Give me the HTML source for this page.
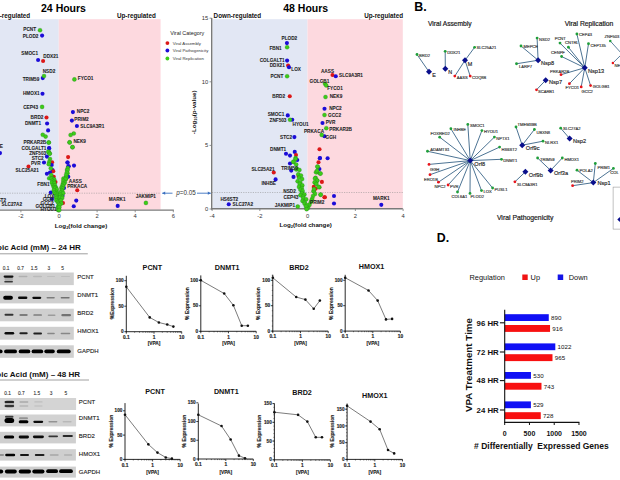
<!DOCTYPE html>
<html><head><meta charset="utf-8"><style>
html,body{margin:0;padding:0;background:#fff;width:620px;height:480px;overflow:hidden}
svg{display:block;font-family:"Liberation Sans",sans-serif}
</style></head><body>
<svg width="620" height="480" viewBox="0 0 620 480" font-family="Liberation Sans, sans-serif"><rect x="0.00" y="19.20" width="58.75" height="190.40" fill="#e2e7f4" />
<rect x="58.75" y="19.20" width="101.85" height="190.40" fill="#fdd9df" />
<line x1="0.00" y1="193.20" x2="160.60" y2="193.20" stroke="#888" stroke-width="0.5" stroke-dasharray="1.2,1.2"/>
<line x1="0.00" y1="210.10" x2="173.80" y2="210.10" stroke="#7a7a7a" stroke-width="1.4" />
<line x1="20.90" y1="210.10" x2="20.90" y2="212.30" stroke="#7a7a7a" stroke-width="0.8" />
<text x="20.90" y="218.28" font-size="5.8" font-weight="normal" text-anchor="middle" fill="#333" >-2</text>
<line x1="59.00" y1="210.10" x2="59.00" y2="212.30" stroke="#7a7a7a" stroke-width="0.8" />
<text x="59.00" y="218.28" font-size="5.8" font-weight="normal" text-anchor="middle" fill="#333" >0</text>
<line x1="97.10" y1="210.10" x2="97.10" y2="212.30" stroke="#7a7a7a" stroke-width="0.8" />
<text x="97.10" y="218.28" font-size="5.8" font-weight="normal" text-anchor="middle" fill="#333" >2</text>
<line x1="135.20" y1="210.10" x2="135.20" y2="212.30" stroke="#7a7a7a" stroke-width="0.8" />
<text x="135.20" y="218.28" font-size="5.8" font-weight="normal" text-anchor="middle" fill="#333" >4</text>
<line x1="173.30" y1="210.10" x2="173.30" y2="212.30" stroke="#7a7a7a" stroke-width="0.8" />
<text x="173.30" y="218.28" font-size="5.8" font-weight="normal" text-anchor="middle" fill="#333" >6</text>
<text x="30.20" y="17.60" font-size="6.3" font-weight="bold" text-anchor="end" fill="#111" >Down-regulated</text>
<text x="155.80" y="18.30" font-size="6.3" font-weight="bold" text-anchor="end" fill="#111" >Up-regulated</text>
<text x="63.50" y="11.50" font-size="10.5" font-weight="bold" text-anchor="middle" fill="#000" >24 Hours</text>
<text x="81" y="227.9" font-size="6.2" font-weight="bold" text-anchor="middle" fill="#111">Log<tspan font-size="4" dy="1.2">2</tspan><tspan dy="-1.2">(fold change)</tspan></text>
<line x1="172.50" y1="193.20" x2="162.20" y2="193.20" stroke="#3a6fc0" stroke-width="0.9" />
<path d="M162.20,193.20 L165.20,191.60 L165.20,194.80 Z" fill="#3a6fc0"/>
<text x="176.3" y="195.4" font-size="6.3" fill="#333"><tspan font-style="italic">p</tspan>=0.05</text>
<line x1="197.00" y1="193.20" x2="210.80" y2="193.20" stroke="#3a6fc0" stroke-width="0.9" />
<path d="M210.80,193.20 L207.80,191.60 L207.80,194.80 Z" fill="#3a6fc0"/>
<text x="187.20" y="35.30" font-size="5.4" font-weight="normal" text-anchor="middle" fill="#222" >Viral Category</text>
<circle cx="167.40" cy="43.10" r="1.9" fill="#dc1818" />
<text x="172.80" y="44.64" font-size="4.3" font-weight="normal" text-anchor="start" fill="#333" >Viral Assembly</text>
<circle cx="167.40" cy="50.50" r="1.9" fill="#1c0cd8" />
<text x="172.80" y="52.04" font-size="4.3" font-weight="normal" text-anchor="start" fill="#333" >Viral Pathogenicity</text>
<circle cx="167.40" cy="58.50" r="1.9" fill="#3ccd18" />
<text x="172.80" y="60.04" font-size="4.3" font-weight="normal" text-anchor="start" fill="#333" >Viral Replication</text>
<circle cx="42.10" cy="35.60" r="2.05" fill="#1c0cd8" />
<circle cx="38.10" cy="60.00" r="2.05" fill="#1c0cd8" />
<circle cx="43.10" cy="61.00" r="2.05" fill="#dc1818" />
<circle cx="42.75" cy="78.10" r="2.05" fill="#1c0cd8" />
<circle cx="42.50" cy="93.75" r="2.05" fill="#1c0cd8" />
<circle cx="46.50" cy="117.50" r="2.05" fill="#dc1818" />
<circle cx="47.10" cy="123.50" r="2.05" fill="#1c0cd8" />
<circle cx="48.10" cy="130.40" r="2.05" fill="#1c0cd8" />
<circle cx="49.10" cy="148.10" r="2.05" fill="#1c0cd8" />
<circle cx="46.90" cy="156.60" r="2.05" fill="#1c0cd8" />
<circle cx="44.00" cy="162.50" r="2.05" fill="#1c0cd8" />
<circle cx="28.50" cy="166.50" r="2.05" fill="#dc1818" />
<circle cx="46.90" cy="173.75" r="2.05" fill="#1c0cd8" />
<circle cx="0.00" cy="153.10" r="2.05" fill="#1c0cd8" />
<circle cx="72.90" cy="112.10" r="2.05" fill="#1c0cd8" />
<circle cx="71.90" cy="120.60" r="2.05" fill="#1c0cd8" />
<circle cx="76.90" cy="126.00" r="2.05" fill="#1c0cd8" />
<circle cx="68.10" cy="157.10" r="2.05" fill="#dc1818" />
<circle cx="67.50" cy="162.50" r="2.05" fill="#1c0cd8" />
<circle cx="68.75" cy="166.25" r="2.05" fill="#1c0cd8" />
<circle cx="74.00" cy="165.60" r="2.05" fill="#1c0cd8" />
<circle cx="77.25" cy="190.25" r="2.05" fill="#dc1818" />
<circle cx="76.25" cy="200.60" r="2.05" fill="#1c0cd8" />
<circle cx="73.75" cy="206.25" r="2.05" fill="#1c0cd8" />
<circle cx="117.70" cy="205.90" r="2.05" fill="#1c0cd8" />
<circle cx="50.80" cy="192.50" r="2.05" fill="#1c0cd8" />
<circle cx="52.00" cy="199.00" r="2.05" fill="#1c0cd8" />
<circle cx="54.50" cy="186.00" r="2.05" fill="#1c0cd8" />
<circle cx="62.50" cy="195.80" r="2.05" fill="#1c0cd8" />
<circle cx="64.00" cy="188.00" r="2.05" fill="#1c0cd8" />
<circle cx="55.50" cy="182.00" r="2.05" fill="#dc1818" />
<circle cx="63.00" cy="203.00" r="2.05" fill="#dc1818" />
<circle cx="49.20" cy="148.30" r="2.05" fill="#1c0cd8" />
<circle cx="52.10" cy="162.30" r="2.05" fill="#dc1818" />
<circle cx="51.70" cy="165.00" r="2.05" fill="#1c0cd8" />
<circle cx="52.50" cy="170.00" r="2.05" fill="#1c0cd8" />
<circle cx="53.30" cy="171.25" r="2.05" fill="#dc1818" />
<circle cx="50.00" cy="172.50" r="2.05" fill="#1c0cd8" />
<circle cx="53.75" cy="176.70" r="2.05" fill="#dc1818" />
<circle cx="67.50" cy="162.50" r="2.05" fill="#1c0cd8" />
<circle cx="68.30" cy="166.25" r="2.05" fill="#1c0cd8" />
<circle cx="68.30" cy="176.70" r="2.05" fill="#1c0cd8" />
<circle cx="40.00" cy="30.25" r="2.05" fill="#3ccd18" stroke="#226622" stroke-width="0.25"/>
<circle cx="44.00" cy="76.00" r="2.05" fill="#3ccd18" stroke="#226622" stroke-width="0.25"/>
<circle cx="42.10" cy="106.90" r="2.05" fill="#3ccd18" stroke="#226622" stroke-width="0.25"/>
<circle cx="42.75" cy="134.75" r="2.05" fill="#3ccd18" stroke="#226622" stroke-width="0.25"/>
<circle cx="45.60" cy="136.60" r="2.05" fill="#3ccd18" stroke="#226622" stroke-width="0.25"/>
<circle cx="48.75" cy="142.50" r="2.05" fill="#3ccd18" stroke="#226622" stroke-width="0.25"/>
<circle cx="48.75" cy="151.90" r="2.05" fill="#3ccd18" stroke="#226622" stroke-width="0.25"/>
<circle cx="49.75" cy="153.50" r="2.05" fill="#3ccd18" stroke="#226622" stroke-width="0.25"/>
<circle cx="74.40" cy="79.40" r="2.05" fill="#3ccd18" stroke="#226622" stroke-width="0.25"/>
<circle cx="73.75" cy="133.50" r="2.05" fill="#3ccd18" stroke="#226622" stroke-width="0.25"/>
<circle cx="70.60" cy="135.00" r="2.05" fill="#3ccd18" stroke="#226622" stroke-width="0.25"/>
<circle cx="69.60" cy="142.25" r="2.05" fill="#3ccd18" stroke="#226622" stroke-width="0.25"/>
<circle cx="72.50" cy="147.25" r="2.05" fill="#3ccd18" stroke="#226622" stroke-width="0.25"/>
<circle cx="145.90" cy="202.90" r="2.05" fill="#3ccd18" stroke="#226622" stroke-width="0.25"/>
<circle cx="48.75" cy="142.50" r="2.05" fill="#3ccd18" stroke="#226622" stroke-width="0.25"/>
<circle cx="48.30" cy="151.70" r="2.05" fill="#3ccd18" stroke="#226622" stroke-width="0.25"/>
<circle cx="49.60" cy="153.75" r="2.05" fill="#3ccd18" stroke="#226622" stroke-width="0.25"/>
<circle cx="50.00" cy="159.00" r="2.05" fill="#3ccd18" stroke="#226622" stroke-width="0.25"/>
<circle cx="49.20" cy="162.00" r="2.05" fill="#3ccd18" stroke="#226622" stroke-width="0.25"/>
<circle cx="48.75" cy="164.20" r="2.05" fill="#3ccd18" stroke="#226622" stroke-width="0.25"/>
<circle cx="50.80" cy="168.30" r="2.05" fill="#3ccd18" stroke="#226622" stroke-width="0.25"/>
<circle cx="51.25" cy="175.00" r="2.05" fill="#3ccd18" stroke="#226622" stroke-width="0.25"/>
<circle cx="49.20" cy="178.30" r="2.05" fill="#3ccd18" stroke="#226622" stroke-width="0.25"/>
<circle cx="52.50" cy="178.30" r="2.05" fill="#3ccd18" stroke="#226622" stroke-width="0.25"/>
<circle cx="69.60" cy="142.50" r="2.05" fill="#3ccd18" stroke="#226622" stroke-width="0.25"/>
<circle cx="72.50" cy="147.10" r="2.05" fill="#3ccd18" stroke="#226622" stroke-width="0.25"/>
<circle cx="67.10" cy="170.00" r="2.05" fill="#3ccd18" stroke="#226622" stroke-width="0.25"/>
<circle cx="67.50" cy="173.30" r="2.05" fill="#3ccd18" stroke="#226622" stroke-width="0.25"/>
<circle cx="66.25" cy="176.70" r="2.05" fill="#3ccd18" stroke="#226622" stroke-width="0.25"/>
<circle cx="65.80" cy="179.20" r="2.05" fill="#3ccd18" stroke="#226622" stroke-width="0.25"/>
<circle cx="51.45" cy="178.58" r="2.05" fill="#3ccd18" stroke="#226622" stroke-width="0.25"/>
<circle cx="54.21" cy="179.49" r="2.05" fill="#3ccd18" stroke="#226622" stroke-width="0.25"/>
<circle cx="52.33" cy="180.78" r="2.05" fill="#3ccd18" stroke="#226622" stroke-width="0.25"/>
<circle cx="53.84" cy="181.95" r="2.05" fill="#3ccd18" stroke="#226622" stroke-width="0.25"/>
<circle cx="51.80" cy="182.80" r="2.05" fill="#3ccd18" stroke="#226622" stroke-width="0.25"/>
<circle cx="54.32" cy="183.38" r="2.05" fill="#3ccd18" stroke="#226622" stroke-width="0.25"/>
<circle cx="53.04" cy="185.20" r="2.05" fill="#3ccd18" stroke="#226622" stroke-width="0.25"/>
<circle cx="54.86" cy="185.48" r="2.05" fill="#3ccd18" stroke="#226622" stroke-width="0.25"/>
<circle cx="53.90" cy="187.29" r="2.05" fill="#3ccd18" stroke="#226622" stroke-width="0.25"/>
<circle cx="55.96" cy="187.63" r="2.05" fill="#3ccd18" stroke="#226622" stroke-width="0.25"/>
<circle cx="55.07" cy="188.14" r="2.05" fill="#3ccd18" stroke="#226622" stroke-width="0.25"/>
<circle cx="56.81" cy="189.44" r="2.05" fill="#3ccd18" stroke="#226622" stroke-width="0.25"/>
<circle cx="53.86" cy="190.17" r="2.05" fill="#3ccd18" stroke="#226622" stroke-width="0.25"/>
<circle cx="56.51" cy="192.00" r="2.05" fill="#3ccd18" stroke="#226622" stroke-width="0.25"/>
<circle cx="54.40" cy="192.66" r="2.05" fill="#3ccd18" stroke="#226622" stroke-width="0.25"/>
<circle cx="57.43" cy="193.41" r="2.05" fill="#3ccd18" stroke="#226622" stroke-width="0.25"/>
<circle cx="55.60" cy="193.98" r="2.05" fill="#3ccd18" stroke="#226622" stroke-width="0.25"/>
<circle cx="57.08" cy="195.15" r="2.05" fill="#3ccd18" stroke="#226622" stroke-width="0.25"/>
<circle cx="56.32" cy="196.35" r="2.05" fill="#3ccd18" stroke="#226622" stroke-width="0.25"/>
<circle cx="57.90" cy="197.54" r="2.05" fill="#3ccd18" stroke="#226622" stroke-width="0.25"/>
<circle cx="56.33" cy="198.13" r="2.05" fill="#3ccd18" stroke="#226622" stroke-width="0.25"/>
<circle cx="59.04" cy="199.61" r="2.05" fill="#3ccd18" stroke="#226622" stroke-width="0.25"/>
<circle cx="56.38" cy="200.40" r="2.05" fill="#3ccd18" stroke="#226622" stroke-width="0.25"/>
<circle cx="59.12" cy="201.76" r="2.05" fill="#3ccd18" stroke="#226622" stroke-width="0.25"/>
<circle cx="57.81" cy="202.00" r="2.05" fill="#3ccd18" stroke="#226622" stroke-width="0.25"/>
<circle cx="58.77" cy="203.73" r="2.05" fill="#3ccd18" stroke="#226622" stroke-width="0.25"/>
<circle cx="58.11" cy="206.43" r="2.05" fill="#3ccd18" stroke="#226622" stroke-width="0.25"/>
<circle cx="58.04" cy="208.05" r="2.05" fill="#3ccd18" stroke="#226622" stroke-width="0.25"/>
<circle cx="58.28" cy="210.20" r="2.05" fill="#3ccd18" stroke="#226622" stroke-width="0.25"/>
<circle cx="67.78" cy="168.09" r="2.05" fill="#3ccd18" stroke="#226622" stroke-width="0.25"/>
<circle cx="67.53" cy="170.11" r="2.05" fill="#3ccd18" stroke="#226622" stroke-width="0.25"/>
<circle cx="66.76" cy="172.78" r="2.05" fill="#3ccd18" stroke="#226622" stroke-width="0.25"/>
<circle cx="66.11" cy="174.95" r="2.05" fill="#3ccd18" stroke="#226622" stroke-width="0.25"/>
<circle cx="66.13" cy="177.87" r="2.05" fill="#3ccd18" stroke="#226622" stroke-width="0.25"/>
<circle cx="63.49" cy="178.53" r="2.05" fill="#3ccd18" stroke="#226622" stroke-width="0.25"/>
<circle cx="65.37" cy="179.14" r="2.05" fill="#3ccd18" stroke="#226622" stroke-width="0.25"/>
<circle cx="63.32" cy="180.87" r="2.05" fill="#3ccd18" stroke="#226622" stroke-width="0.25"/>
<circle cx="64.90" cy="182.59" r="2.05" fill="#3ccd18" stroke="#226622" stroke-width="0.25"/>
<circle cx="63.02" cy="183.20" r="2.05" fill="#3ccd18" stroke="#226622" stroke-width="0.25"/>
<circle cx="63.80" cy="184.20" r="2.05" fill="#3ccd18" stroke="#226622" stroke-width="0.25"/>
<circle cx="62.39" cy="185.53" r="2.05" fill="#3ccd18" stroke="#226622" stroke-width="0.25"/>
<circle cx="62.89" cy="186.62" r="2.05" fill="#3ccd18" stroke="#226622" stroke-width="0.25"/>
<circle cx="61.35" cy="187.87" r="2.05" fill="#3ccd18" stroke="#226622" stroke-width="0.25"/>
<circle cx="62.61" cy="188.47" r="2.05" fill="#3ccd18" stroke="#226622" stroke-width="0.25"/>
<circle cx="61.62" cy="190.20" r="2.05" fill="#3ccd18" stroke="#226622" stroke-width="0.25"/>
<circle cx="62.19" cy="191.03" r="2.05" fill="#3ccd18" stroke="#226622" stroke-width="0.25"/>
<circle cx="60.72" cy="192.53" r="2.05" fill="#3ccd18" stroke="#226622" stroke-width="0.25"/>
<circle cx="63.08" cy="193.16" r="2.05" fill="#3ccd18" stroke="#226622" stroke-width="0.25"/>
<circle cx="60.35" cy="194.87" r="2.05" fill="#3ccd18" stroke="#226622" stroke-width="0.25"/>
<circle cx="62.06" cy="196.46" r="2.05" fill="#3ccd18" stroke="#226622" stroke-width="0.25"/>
<circle cx="60.35" cy="197.20" r="2.05" fill="#3ccd18" stroke="#226622" stroke-width="0.25"/>
<circle cx="62.18" cy="198.07" r="2.05" fill="#3ccd18" stroke="#226622" stroke-width="0.25"/>
<circle cx="60.93" cy="200.50" r="2.05" fill="#3ccd18" stroke="#226622" stroke-width="0.25"/>
<circle cx="61.32" cy="203.55" r="2.05" fill="#3ccd18" stroke="#226622" stroke-width="0.25"/>
<circle cx="59.56" cy="204.94" r="2.05" fill="#3ccd18" stroke="#226622" stroke-width="0.25"/>
<circle cx="59.26" cy="207.35" r="2.05" fill="#3ccd18" stroke="#226622" stroke-width="0.25"/>
<circle cx="59.27" cy="210.11" r="2.05" fill="#3ccd18" stroke="#226622" stroke-width="0.25"/>
<text x="29.70" y="31.48" font-size="4.7" font-weight="bold" text-anchor="middle" fill="#222" stroke="#222" stroke-width="0.06">PCNT</text>
<text x="30.60" y="37.98" font-size="4.7" font-weight="bold" text-anchor="middle" fill="#222" stroke="#222" stroke-width="0.06">PLOD2</text>
<text x="29.70" y="55.18" font-size="4.7" font-weight="bold" text-anchor="middle" fill="#222" stroke="#222" stroke-width="0.06">SMOC1</text>
<text x="50.90" y="57.98" font-size="4.7" font-weight="bold" text-anchor="middle" fill="#222" stroke="#222" stroke-width="0.06">DDX21</text>
<text x="49.00" y="72.68" font-size="4.7" font-weight="bold" text-anchor="middle" fill="#222" stroke="#222" stroke-width="0.06">NSD2</text>
<text x="31.00" y="81.08" font-size="4.7" font-weight="bold" text-anchor="middle" fill="#222" stroke="#222" stroke-width="0.06">TRIM59</text>
<text x="31.30" y="95.43" font-size="4.7" font-weight="bold" text-anchor="middle" fill="#222" stroke="#222" stroke-width="0.06">HMOX1</text>
<text x="30.60" y="108.58" font-size="4.7" font-weight="bold" text-anchor="middle" fill="#222" stroke="#222" stroke-width="0.06">CEP43</text>
<text x="37.00" y="118.98" font-size="4.7" font-weight="bold" text-anchor="middle" fill="#222" stroke="#222" stroke-width="0.06">BRD2</text>
<text x="33.00" y="125.28" font-size="4.7" font-weight="bold" text-anchor="middle" fill="#222" stroke="#222" stroke-width="0.06">DNMT1</text>
<text x="34.90" y="144.18" font-size="4.7" font-weight="bold" text-anchor="middle" fill="#222" stroke="#222" stroke-width="0.06">PRKAR2B</text>
<text x="34.00" y="149.78" font-size="4.7" font-weight="bold" text-anchor="middle" fill="#222" stroke="#222" stroke-width="0.06">COLGALT1</text>
<text x="37.70" y="154.78" font-size="4.7" font-weight="bold" text-anchor="middle" fill="#222" stroke="#222" stroke-width="0.06">ZNF503</text>
<text x="37.70" y="159.78" font-size="4.7" font-weight="bold" text-anchor="middle" fill="#222" stroke="#222" stroke-width="0.06">STC2</text>
<text x="35.70" y="164.78" font-size="4.7" font-weight="bold" text-anchor="middle" fill="#222" stroke="#222" stroke-width="0.06">PVR</text>
<text x="27.20" y="172.28" font-size="4.7" font-weight="bold" text-anchor="middle" fill="#222" stroke="#222" stroke-width="0.06">SLC25A21</text>
<text x="43.40" y="186.08" font-size="4.7" font-weight="bold" text-anchor="middle" fill="#222" stroke="#222" stroke-width="0.06">FBN1</text>
<text x="3.00" y="147.68" font-size="4.7" font-weight="bold" text-anchor="end" fill="#222" stroke="#222" stroke-width="0.06">INHBE</text>
<text x="85.60" y="80.48" font-size="4.7" font-weight="bold" text-anchor="middle" fill="#222" stroke="#222" stroke-width="0.06">FYCO1</text>
<text x="83.10" y="113.18" font-size="4.7" font-weight="bold" text-anchor="middle" fill="#222" stroke="#222" stroke-width="0.06">NPC2</text>
<text x="81.50" y="121.08" font-size="4.7" font-weight="bold" text-anchor="middle" fill="#222" stroke="#222" stroke-width="0.06">PRIM2</text>
<text x="92.30" y="128.18" font-size="4.7" font-weight="bold" text-anchor="middle" fill="#222" stroke="#222" stroke-width="0.06">SLC9A3R1</text>
<text x="79.70" y="142.88" font-size="4.7" font-weight="bold" text-anchor="middle" fill="#222" stroke="#222" stroke-width="0.06">NEK9</text>
<text x="75.30" y="182.98" font-size="4.7" font-weight="bold" text-anchor="middle" fill="#222" stroke="#222" stroke-width="0.06">AASS</text>
<text x="77.20" y="188.18" font-size="4.7" font-weight="bold" text-anchor="middle" fill="#222" stroke="#222" stroke-width="0.06">PRKACA</text>
<text x="117.20" y="200.68" font-size="4.7" font-weight="bold" text-anchor="middle" fill="#222" stroke="#222" stroke-width="0.06">MARK1</text>
<text x="145.80" y="197.68" font-size="4.7" font-weight="bold" text-anchor="middle" fill="#222" stroke="#222" stroke-width="0.06">JAKMIP1</text>
<text x="6.00" y="201.68" font-size="4.7" font-weight="bold" text-anchor="end" fill="#222" stroke="#222" stroke-width="0.06">HS6ST2</text>
<text x="11.80" y="205.98" font-size="4.7" font-weight="bold" text-anchor="middle" fill="#222" stroke="#222" stroke-width="0.06">SLC27A2</text>
<text x="49.50" y="198.18" font-size="4.7" font-weight="bold" text-anchor="middle" fill="#222" stroke="#222" stroke-width="0.06">LOX</text>
<text x="48.00" y="201.48" font-size="4.7" font-weight="bold" text-anchor="middle" fill="#222" stroke="#222" stroke-width="0.06">GGH</text>
<text x="47.00" y="204.68" font-size="4.7" font-weight="bold" text-anchor="middle" fill="#222" stroke="#222" stroke-width="0.06">GCC2</text>
<text x="45.30" y="207.98" font-size="4.7" font-weight="bold" text-anchor="middle" fill="#222" stroke="#222" stroke-width="0.06">GOLGB1</text>
<text x="48.50" y="210.68" font-size="4.7" font-weight="bold" text-anchor="middle" fill="#222" stroke="#222" stroke-width="0.06">HYOU1</text>
<rect x="212.50" y="19.20" width="95.00" height="189.50" fill="#e2e7f4" />
<rect x="307.50" y="19.20" width="95.30" height="189.50" fill="#fdd9df" />
<line x1="212.00" y1="192.50" x2="402.80" y2="192.50" stroke="#888" stroke-width="0.5" stroke-dasharray="1.2,1.2"/>
<line x1="211.70" y1="18.10" x2="211.70" y2="209.50" stroke="#7a7a7a" stroke-width="1.4" />
<line x1="209.50" y1="209.00" x2="211.70" y2="209.00" stroke="#7a7a7a" stroke-width="0.8" />
<text x="208.30" y="211.08" font-size="5.8" font-weight="normal" text-anchor="end" fill="#333" >0</text>
<line x1="209.50" y1="145.40" x2="211.70" y2="145.40" stroke="#7a7a7a" stroke-width="0.8" />
<text x="208.30" y="147.48" font-size="5.8" font-weight="normal" text-anchor="end" fill="#333" >5</text>
<line x1="209.50" y1="81.80" x2="211.70" y2="81.80" stroke="#7a7a7a" stroke-width="0.8" />
<text x="208.30" y="83.88" font-size="5.8" font-weight="normal" text-anchor="end" fill="#333" >10</text>
<line x1="209.50" y1="18.20" x2="211.70" y2="18.20" stroke="#7a7a7a" stroke-width="0.8" />
<text x="208.30" y="20.28" font-size="5.8" font-weight="normal" text-anchor="end" fill="#333" >15</text>
<line x1="211.00" y1="208.80" x2="402.80" y2="208.80" stroke="#7a7a7a" stroke-width="1.4" />
<line x1="212.10" y1="208.80" x2="212.10" y2="211.00" stroke="#7a7a7a" stroke-width="0.8" />
<text x="212.10" y="217.68" font-size="5.8" font-weight="normal" text-anchor="middle" fill="#333" >-4</text>
<line x1="259.85" y1="208.80" x2="259.85" y2="211.00" stroke="#7a7a7a" stroke-width="0.8" />
<text x="259.85" y="217.68" font-size="5.8" font-weight="normal" text-anchor="middle" fill="#333" >-2</text>
<line x1="307.60" y1="208.80" x2="307.60" y2="211.00" stroke="#7a7a7a" stroke-width="0.8" />
<text x="307.60" y="217.68" font-size="5.8" font-weight="normal" text-anchor="middle" fill="#333" >0</text>
<line x1="355.35" y1="208.80" x2="355.35" y2="211.00" stroke="#7a7a7a" stroke-width="0.8" />
<text x="355.35" y="217.68" font-size="5.8" font-weight="normal" text-anchor="middle" fill="#333" >2</text>
<line x1="403.10" y1="208.80" x2="403.10" y2="211.00" stroke="#7a7a7a" stroke-width="0.8" />
<text x="403.10" y="217.68" font-size="5.8" font-weight="normal" text-anchor="middle" fill="#333" >4</text>
<text x="305.70" y="11.50" font-size="10.5" font-weight="bold" text-anchor="middle" fill="#000" >48 Hours</text>
<text x="213.60" y="18.30" font-size="6.3" font-weight="bold" text-anchor="start" fill="#111" >Down-regulated</text>
<text x="403.00" y="18.30" font-size="6.3" font-weight="bold" text-anchor="end" fill="#111" >Up-regulated</text>
<text x="305.7" y="227.1" font-size="6.2" font-weight="bold" text-anchor="middle" fill="#111">Log<tspan font-size="4" dy="1.2">2</tspan><tspan dy="-1.2">(fold change)</tspan></text>
<text transform="translate(196.2,112.3) rotate(-90)" font-size="6.2" font-weight="bold" text-anchor="middle" fill="#111">-Log<tspan font-size="4" dy="1.2">10</tspan><tspan dy="-1.2">(p-value)</tspan></text>
<circle cx="286.90" cy="43.10" r="2.05" fill="#1c0cd8" />
<circle cx="287.10" cy="60.60" r="2.05" fill="#1c0cd8" />
<circle cx="288.10" cy="65.60" r="2.05" fill="#dc1818" />
<circle cx="289.00" cy="67.25" r="2.05" fill="#1c0cd8" />
<circle cx="289.75" cy="96.25" r="2.05" fill="#dc1818" />
<circle cx="287.75" cy="115.40" r="2.05" fill="#1c0cd8" />
<circle cx="292.25" cy="119.75" r="2.05" fill="#1c0cd8" />
<circle cx="294.40" cy="137.10" r="2.05" fill="#1c0cd8" />
<circle cx="286.00" cy="153.75" r="2.05" fill="#1c0cd8" />
<circle cx="290.00" cy="155.60" r="2.05" fill="#1c0cd8" />
<circle cx="294.75" cy="151.90" r="2.05" fill="#1c0cd8" />
<circle cx="296.00" cy="155.00" r="2.05" fill="#dc1818" />
<circle cx="297.25" cy="160.00" r="2.05" fill="#1c0cd8" />
<circle cx="290.00" cy="163.50" r="2.05" fill="#1c0cd8" />
<circle cx="291.25" cy="170.60" r="2.05" fill="#1c0cd8" />
<circle cx="293.50" cy="176.90" r="2.05" fill="#1c0cd8" />
<circle cx="273.75" cy="172.50" r="2.05" fill="#dc1818" />
<circle cx="275.60" cy="179.40" r="2.05" fill="#1c0cd8" />
<circle cx="228.75" cy="204.30" r="2.05" fill="#1c0cd8" />
<circle cx="332.50" cy="75.00" r="2.05" fill="#dc1818" />
<circle cx="335.75" cy="76.25" r="2.05" fill="#1c0cd8" />
<circle cx="324.50" cy="108.75" r="2.05" fill="#1c0cd8" />
<circle cx="322.50" cy="123.00" r="2.05" fill="#1c0cd8" />
<circle cx="324.40" cy="136.30" r="2.05" fill="#1c0cd8" />
<circle cx="319.50" cy="149.30" r="2.05" fill="#dc1818" />
<circle cx="319.80" cy="158.20" r="2.05" fill="#1c0cd8" />
<circle cx="327.60" cy="158.20" r="2.05" fill="#1c0cd8" />
<circle cx="320.00" cy="158.10" r="2.05" fill="#1c0cd8" />
<circle cx="318.50" cy="162.25" r="2.05" fill="#dc1818" />
<circle cx="319.40" cy="169.00" r="2.05" fill="#1c0cd8" />
<circle cx="321.90" cy="181.90" r="2.05" fill="#dc1818" />
<circle cx="313.75" cy="186.90" r="2.05" fill="#dc1818" />
<circle cx="315.60" cy="188.75" r="2.05" fill="#dc1818" />
<circle cx="324.40" cy="197.25" r="2.05" fill="#dc1818" />
<circle cx="334.00" cy="196.00" r="2.05" fill="#1c0cd8" />
<circle cx="334.00" cy="203.50" r="2.05" fill="#1c0cd8" />
<circle cx="381.30" cy="204.85" r="2.05" fill="#1c0cd8" />
<circle cx="324.90" cy="197.30" r="2.05" fill="#dc1818" />
<circle cx="300.00" cy="185.00" r="2.05" fill="#1c0cd8" />
<circle cx="302.00" cy="192.00" r="2.05" fill="#1c0cd8" />
<circle cx="304.00" cy="200.00" r="2.05" fill="#1c0cd8" />
<circle cx="298.50" cy="176.00" r="2.05" fill="#dc1818" />
<circle cx="287.10" cy="47.25" r="2.05" fill="#3ccd18" stroke="#226622" stroke-width="0.25"/>
<circle cx="287.10" cy="76.25" r="2.05" fill="#3ccd18" stroke="#226622" stroke-width="0.25"/>
<circle cx="290.00" cy="119.75" r="2.05" fill="#3ccd18" stroke="#226622" stroke-width="0.25"/>
<circle cx="295.60" cy="158.10" r="2.05" fill="#3ccd18" stroke="#226622" stroke-width="0.25"/>
<circle cx="293.50" cy="161.90" r="2.05" fill="#3ccd18" stroke="#226622" stroke-width="0.25"/>
<circle cx="296.25" cy="169.40" r="2.05" fill="#3ccd18" stroke="#226622" stroke-width="0.25"/>
<circle cx="297.75" cy="206.50" r="2.05" fill="#3ccd18" stroke="#226622" stroke-width="0.25"/>
<circle cx="325.00" cy="83.75" r="2.05" fill="#3ccd18" stroke="#226622" stroke-width="0.25"/>
<circle cx="326.25" cy="85.50" r="2.05" fill="#3ccd18" stroke="#226622" stroke-width="0.25"/>
<circle cx="325.50" cy="97.00" r="2.05" fill="#3ccd18" stroke="#226622" stroke-width="0.25"/>
<circle cx="324.50" cy="115.00" r="2.05" fill="#3ccd18" stroke="#226622" stroke-width="0.25"/>
<circle cx="326.30" cy="128.20" r="2.05" fill="#3ccd18" stroke="#226622" stroke-width="0.25"/>
<circle cx="321.70" cy="134.90" r="2.05" fill="#3ccd18" stroke="#226622" stroke-width="0.25"/>
<circle cx="317.75" cy="166.90" r="2.05" fill="#3ccd18" stroke="#226622" stroke-width="0.25"/>
<circle cx="316.90" cy="172.25" r="2.05" fill="#3ccd18" stroke="#226622" stroke-width="0.25"/>
<circle cx="320.00" cy="173.50" r="2.05" fill="#3ccd18" stroke="#226622" stroke-width="0.25"/>
<circle cx="315.60" cy="177.75" r="2.05" fill="#3ccd18" stroke="#226622" stroke-width="0.25"/>
<circle cx="317.25" cy="180.60" r="2.05" fill="#3ccd18" stroke="#226622" stroke-width="0.25"/>
<circle cx="315.60" cy="183.10" r="2.05" fill="#3ccd18" stroke="#226622" stroke-width="0.25"/>
<circle cx="319.40" cy="187.25" r="2.05" fill="#3ccd18" stroke="#226622" stroke-width="0.25"/>
<circle cx="313.75" cy="191.25" r="2.05" fill="#3ccd18" stroke="#226622" stroke-width="0.25"/>
<circle cx="320.60" cy="194.75" r="2.05" fill="#3ccd18" stroke="#226622" stroke-width="0.25"/>
<circle cx="317.40" cy="166.60" r="2.05" fill="#3ccd18" stroke="#226622" stroke-width="0.25"/>
<circle cx="316.00" cy="172.20" r="2.05" fill="#3ccd18" stroke="#226622" stroke-width="0.25"/>
<circle cx="317.10" cy="170.80" r="2.05" fill="#3ccd18" stroke="#226622" stroke-width="0.25"/>
<circle cx="320.60" cy="173.60" r="2.05" fill="#3ccd18" stroke="#226622" stroke-width="0.25"/>
<circle cx="315.00" cy="178.50" r="2.05" fill="#3ccd18" stroke="#226622" stroke-width="0.25"/>
<circle cx="317.10" cy="180.60" r="2.05" fill="#3ccd18" stroke="#226622" stroke-width="0.25"/>
<circle cx="314.60" cy="182.40" r="2.05" fill="#3ccd18" stroke="#226622" stroke-width="0.25"/>
<circle cx="316.40" cy="184.10" r="2.05" fill="#3ccd18" stroke="#226622" stroke-width="0.25"/>
<circle cx="318.50" cy="186.90" r="2.05" fill="#3ccd18" stroke="#226622" stroke-width="0.25"/>
<circle cx="313.60" cy="191.10" r="2.05" fill="#3ccd18" stroke="#226622" stroke-width="0.25"/>
<circle cx="315.00" cy="193.90" r="2.05" fill="#3ccd18" stroke="#226622" stroke-width="0.25"/>
<circle cx="320.60" cy="194.60" r="2.05" fill="#3ccd18" stroke="#226622" stroke-width="0.25"/>
<circle cx="313.00" cy="196.00" r="2.05" fill="#3ccd18" stroke="#226622" stroke-width="0.25"/>
<circle cx="312.20" cy="198.80" r="2.05" fill="#3ccd18" stroke="#226622" stroke-width="0.25"/>
<circle cx="310.80" cy="202.30" r="2.05" fill="#3ccd18" stroke="#226622" stroke-width="0.25"/>
<circle cx="309.40" cy="205.00" r="2.05" fill="#3ccd18" stroke="#226622" stroke-width="0.25"/>
<circle cx="308.00" cy="207.80" r="2.05" fill="#3ccd18" stroke="#226622" stroke-width="0.25"/>
<circle cx="311.50" cy="200.50" r="2.05" fill="#3ccd18" stroke="#226622" stroke-width="0.25"/>
<circle cx="314.00" cy="189.00" r="2.05" fill="#3ccd18" stroke="#226622" stroke-width="0.25"/>
<circle cx="295.50" cy="159.00" r="2.05" fill="#3ccd18" stroke="#226622" stroke-width="0.25"/>
<circle cx="293.40" cy="161.80" r="2.05" fill="#3ccd18" stroke="#226622" stroke-width="0.25"/>
<circle cx="296.20" cy="164.60" r="2.05" fill="#3ccd18" stroke="#226622" stroke-width="0.25"/>
<circle cx="296.90" cy="168.70" r="2.05" fill="#3ccd18" stroke="#226622" stroke-width="0.25"/>
<circle cx="299.44" cy="170.00" r="2.05" fill="#3ccd18" stroke="#226622" stroke-width="0.25"/>
<circle cx="298.30" cy="174.30" r="2.05" fill="#3ccd18" stroke="#226622" stroke-width="0.25"/>
<circle cx="300.97" cy="175.60" r="2.05" fill="#3ccd18" stroke="#226622" stroke-width="0.25"/>
<circle cx="299.00" cy="177.80" r="2.05" fill="#3ccd18" stroke="#226622" stroke-width="0.25"/>
<circle cx="302.11" cy="179.10" r="2.05" fill="#3ccd18" stroke="#226622" stroke-width="0.25"/>
<circle cx="297.60" cy="181.30" r="2.05" fill="#3ccd18" stroke="#226622" stroke-width="0.25"/>
<circle cx="300.16" cy="182.60" r="2.05" fill="#3ccd18" stroke="#226622" stroke-width="0.25"/>
<circle cx="299.70" cy="184.10" r="2.05" fill="#3ccd18" stroke="#226622" stroke-width="0.25"/>
<circle cx="302.31" cy="185.40" r="2.05" fill="#3ccd18" stroke="#226622" stroke-width="0.25"/>
<circle cx="299.00" cy="186.90" r="2.05" fill="#3ccd18" stroke="#226622" stroke-width="0.25"/>
<circle cx="301.70" cy="188.20" r="2.05" fill="#3ccd18" stroke="#226622" stroke-width="0.25"/>
<circle cx="300.40" cy="189.70" r="2.05" fill="#3ccd18" stroke="#226622" stroke-width="0.25"/>
<circle cx="302.62" cy="191.00" r="2.05" fill="#3ccd18" stroke="#226622" stroke-width="0.25"/>
<circle cx="301.80" cy="193.20" r="2.05" fill="#3ccd18" stroke="#226622" stroke-width="0.25"/>
<circle cx="304.41" cy="194.50" r="2.05" fill="#3ccd18" stroke="#226622" stroke-width="0.25"/>
<circle cx="300.40" cy="195.30" r="2.05" fill="#3ccd18" stroke="#226622" stroke-width="0.25"/>
<circle cx="303.16" cy="196.60" r="2.05" fill="#3ccd18" stroke="#226622" stroke-width="0.25"/>
<circle cx="303.20" cy="198.10" r="2.05" fill="#3ccd18" stroke="#226622" stroke-width="0.25"/>
<circle cx="306.15" cy="199.40" r="2.05" fill="#3ccd18" stroke="#226622" stroke-width="0.25"/>
<circle cx="302.50" cy="200.90" r="2.05" fill="#3ccd18" stroke="#226622" stroke-width="0.25"/>
<circle cx="304.61" cy="202.20" r="2.05" fill="#3ccd18" stroke="#226622" stroke-width="0.25"/>
<circle cx="304.60" cy="203.70" r="2.05" fill="#3ccd18" stroke="#226622" stroke-width="0.25"/>
<circle cx="306.96" cy="205.00" r="2.05" fill="#3ccd18" stroke="#226622" stroke-width="0.25"/>
<circle cx="306.00" cy="206.50" r="2.05" fill="#3ccd18" stroke="#226622" stroke-width="0.25"/>
<circle cx="306.60" cy="209.20" r="2.05" fill="#3ccd18" stroke="#226622" stroke-width="0.25"/>
<text x="289.40" y="39.78" font-size="4.7" font-weight="bold" text-anchor="middle" fill="#222" stroke="#222" stroke-width="0.06">PLOD2</text>
<text x="275.60" y="49.78" font-size="4.7" font-weight="bold" text-anchor="middle" fill="#222" stroke="#222" stroke-width="0.06">FBN1</text>
<text x="272.20" y="62.28" font-size="4.7" font-weight="bold" text-anchor="middle" fill="#222" stroke="#222" stroke-width="0.06">COLGALT1</text>
<text x="277.20" y="66.93" font-size="4.7" font-weight="bold" text-anchor="middle" fill="#222" stroke="#222" stroke-width="0.06">DDX21</text>
<text x="296.10" y="71.08" font-size="4.7" font-weight="bold" text-anchor="middle" fill="#222" stroke="#222" stroke-width="0.06">LOX</text>
<text x="277.00" y="77.93" font-size="4.7" font-weight="bold" text-anchor="middle" fill="#222" stroke="#222" stroke-width="0.06">PCNT</text>
<text x="278.70" y="97.93" font-size="4.7" font-weight="bold" text-anchor="middle" fill="#222" stroke="#222" stroke-width="0.06">BRD2</text>
<text x="276.00" y="116.08" font-size="4.7" font-weight="bold" text-anchor="middle" fill="#222" stroke="#222" stroke-width="0.06">SMOC1</text>
<text x="278.00" y="122.28" font-size="4.7" font-weight="bold" text-anchor="middle" fill="#222" stroke="#222" stroke-width="0.06">ZNF503</text>
<text x="300.60" y="125.68" font-size="4.7" font-weight="bold" text-anchor="middle" fill="#222" stroke="#222" stroke-width="0.06">HYOU1</text>
<text x="286.00" y="138.78" font-size="4.7" font-weight="bold" text-anchor="middle" fill="#222" stroke="#222" stroke-width="0.06">STC2</text>
<text x="278.10" y="151.43" font-size="4.7" font-weight="bold" text-anchor="middle" fill="#222" stroke="#222" stroke-width="0.06">DNMT1</text>
<text x="289.50" y="170.43" font-size="4.7" font-weight="bold" text-anchor="middle" fill="#222" stroke="#222" stroke-width="0.06">TRIM59</text>
<text x="263.00" y="170.68" font-size="4.7" font-weight="bold" text-anchor="middle" fill="#222" stroke="#222" stroke-width="0.06">SLC25A21</text>
<text x="268.70" y="185.43" font-size="4.7" font-weight="bold" text-anchor="middle" fill="#222" stroke="#222" stroke-width="0.06">INHBE</text>
<text x="289.60" y="192.98" font-size="4.7" font-weight="bold" text-anchor="middle" fill="#222" stroke="#222" stroke-width="0.06">NSD2</text>
<text x="291.00" y="198.98" font-size="4.7" font-weight="bold" text-anchor="middle" fill="#222" stroke="#222" stroke-width="0.06">CEP43</text>
<text x="284.90" y="207.08" font-size="4.7" font-weight="bold" text-anchor="middle" fill="#222" stroke="#222" stroke-width="0.06">JAKMIP1</text>
<text x="229.30" y="200.58" font-size="4.7" font-weight="bold" text-anchor="middle" fill="#222" stroke="#222" stroke-width="0.06">HS6ST2</text>
<text x="242.80" y="205.98" font-size="4.7" font-weight="bold" text-anchor="middle" fill="#222" stroke="#222" stroke-width="0.06">SLC27A2</text>
<text x="327.50" y="73.43" font-size="4.7" font-weight="bold" text-anchor="middle" fill="#222" stroke="#222" stroke-width="0.06">AASS</text>
<text x="351.00" y="77.18" font-size="4.7" font-weight="bold" text-anchor="middle" fill="#222" stroke="#222" stroke-width="0.06">SLC9A3R1</text>
<text x="319.40" y="82.93" font-size="4.7" font-weight="bold" text-anchor="middle" fill="#222" stroke="#222" stroke-width="0.06">GOLGB1</text>
<text x="335.00" y="89.68" font-size="4.7" font-weight="bold" text-anchor="middle" fill="#222" stroke="#222" stroke-width="0.06">FYCO1</text>
<text x="336.00" y="97.93" font-size="4.7" font-weight="bold" text-anchor="middle" fill="#222" stroke="#222" stroke-width="0.06">NEK9</text>
<text x="335.40" y="110.43" font-size="4.7" font-weight="bold" text-anchor="middle" fill="#222" stroke="#222" stroke-width="0.06">NPC2</text>
<text x="334.50" y="116.68" font-size="4.7" font-weight="bold" text-anchor="middle" fill="#222" stroke="#222" stroke-width="0.06">GCC2</text>
<text x="330.50" y="124.38" font-size="4.7" font-weight="bold" text-anchor="middle" fill="#222" stroke="#222" stroke-width="0.06">PVR</text>
<text x="340.60" y="130.68" font-size="4.7" font-weight="bold" text-anchor="middle" fill="#222" stroke="#222" stroke-width="0.06">PRKAR2B</text>
<text x="314.00" y="132.78" font-size="4.7" font-weight="bold" text-anchor="middle" fill="#222" stroke="#222" stroke-width="0.06">PRKACA</text>
<text x="330.90" y="139.28" font-size="4.7" font-weight="bold" text-anchor="middle" fill="#222" stroke="#222" stroke-width="0.06">GGH</text>
<text x="381.30" y="199.68" font-size="4.7" font-weight="bold" text-anchor="middle" fill="#222" stroke="#222" stroke-width="0.06">MARK1</text>
<text x="317.20" y="204.18" font-size="4.7" font-weight="bold" text-anchor="middle" fill="#222" stroke="#222" stroke-width="0.06">PRIM2</text>
<text x="414.20" y="11.40" font-size="12.4" font-weight="bold" text-anchor="start" fill="#000" >B.</text>
<text x="449.80" y="25.86" font-size="6.6" font-weight="normal" text-anchor="middle" fill="#222" stroke="#222" stroke-width="0.2" textLength="43.6" lengthAdjust="spacingAndGlyphs">Viral Assembly</text>
<text x="589.00" y="25.86" font-size="6.6" font-weight="normal" text-anchor="middle" fill="#222" stroke="#222" stroke-width="0.2" textLength="48.7" lengthAdjust="spacingAndGlyphs">Viral Replication</text>
<text x="525.20" y="219.96" font-size="6.6" font-weight="normal" text-anchor="middle" fill="#222" stroke="#222" stroke-width="0.2" textLength="56.5" lengthAdjust="spacingAndGlyphs">Viral Pathogenicity</text>
<line x1="429.00" y1="71.80" x2="417.00" y2="54.50" stroke="#4d7494" stroke-width="1.0" />
<circle cx="417.00" cy="54.50" r="1.4" fill="#1f9e3a" />
<text x="419.00" y="56.67" font-size="4.1" font-weight="normal" text-anchor="start" fill="#333" stroke="#333" stroke-width="0.15">BRD2</text>
<path d="M429.00,68.80 L432.00,71.80 L429.00,74.80 L426.00,71.80 Z" fill="#0a0f8c"/>
<text x="432.30" y="76.93" font-size="5.4" font-weight="normal" text-anchor="start" fill="#222" stroke="#222" stroke-width="0.15">E</text>
<line x1="445.30" y1="68.80" x2="445.20" y2="51.30" stroke="#4d7494" stroke-width="1.0" />
<circle cx="445.20" cy="51.30" r="1.4" fill="#1f9e3a" />
<text x="447.20" y="53.67" font-size="4.1" font-weight="normal" text-anchor="start" fill="#333" stroke="#333" stroke-width="0.15">DDX21</text>
<path d="M445.30,65.80 L448.30,68.80 L445.30,71.80 L442.30,68.80 Z" fill="#0a0f8c"/>
<text x="448.30" y="74.43" font-size="5.4" font-weight="normal" text-anchor="start" fill="#222" stroke="#222" stroke-width="0.15">N</text>
<line x1="465.00" y1="60.30" x2="474.60" y2="47.30" stroke="#4d7494" stroke-width="1.0" />
<line x1="465.00" y1="60.30" x2="454.80" y2="76.10" stroke="#4d7494" stroke-width="1.0" />
<line x1="465.00" y1="60.30" x2="470.20" y2="76.10" stroke="#4d7494" stroke-width="1.0" />
<circle cx="474.60" cy="47.30" r="1.4" fill="#1f9e3a" />
<text x="476.50" y="49.07" font-size="4.1" font-weight="normal" text-anchor="start" fill="#333" stroke="#333" stroke-width="0.15">SLC25A21</text>
<circle cx="454.80" cy="76.10" r="1.4" fill="#e8141a" />
<text x="456.80" y="79.27" font-size="4.1" font-weight="normal" text-anchor="start" fill="#333" stroke="#333" stroke-width="0.15">AASS</text>
<circle cx="470.20" cy="76.10" r="1.4" fill="#e8141a" />
<text x="472.00" y="78.97" font-size="4.1" font-weight="normal" text-anchor="start" fill="#333" stroke="#333" stroke-width="0.15">COQ8B</text>
<path d="M465.00,57.30 L468.00,60.30 L465.00,63.30 L462.00,60.30 Z" fill="#0a0f8c"/>
<text x="467.80" y="65.93" font-size="5.4" font-weight="normal" text-anchor="start" fill="#222" stroke="#222" stroke-width="0.15">M</text>
<line x1="538.10" y1="60.25" x2="537.10" y2="38.10" stroke="#4d7494" stroke-width="1.0" />
<line x1="538.10" y1="60.25" x2="521.00" y2="46.00" stroke="#4d7494" stroke-width="1.0" />
<line x1="538.10" y1="60.25" x2="516.50" y2="63.75" stroke="#4d7494" stroke-width="1.0" />
<circle cx="537.10" cy="38.10" r="1.4" fill="#1f9e3a" />
<text x="539.00" y="40.97" font-size="4.1" font-weight="normal" text-anchor="start" fill="#333" stroke="#333" stroke-width="0.15">NSD2</text>
<circle cx="521.00" cy="46.00" r="1.4" fill="#1f9e3a" />
<text x="523.50" y="47.97" font-size="4.1" font-weight="normal" text-anchor="start" fill="#333" stroke="#333" stroke-width="0.15">MEPCE</text>
<circle cx="516.50" cy="63.75" r="1.4" fill="#1f9e3a" />
<text x="519.00" y="67.97" font-size="4.1" font-weight="normal" text-anchor="start" fill="#333" stroke="#333" stroke-width="0.15">LARP7</text>
<path d="M538.10,57.25 L541.10,60.25 L538.10,63.25 L535.10,60.25 Z" fill="#0a0f8c"/>
<text x="541.00" y="64.60" font-size="5.6" font-weight="normal" text-anchor="start" fill="#222" stroke="#222" stroke-width="0.15">Nsp8</text>
<line x1="584.75" y1="67.75" x2="560.00" y2="43.10" stroke="#4d7494" stroke-width="1.0" />
<line x1="584.75" y1="67.75" x2="568.40" y2="47.25" stroke="#4d7494" stroke-width="1.0" />
<line x1="584.75" y1="67.75" x2="561.60" y2="56.50" stroke="#4d7494" stroke-width="1.0" />
<line x1="584.75" y1="67.75" x2="576.90" y2="34.00" stroke="#4d7494" stroke-width="1.0" />
<line x1="584.75" y1="67.75" x2="588.50" y2="43.75" stroke="#4d7494" stroke-width="1.0" />
<line x1="584.75" y1="67.75" x2="590.60" y2="85.60" stroke="#4d7494" stroke-width="1.0" />
<line x1="584.75" y1="67.75" x2="581.20" y2="86.90" stroke="#4d7494" stroke-width="1.0" />
<line x1="584.75" y1="67.75" x2="569.40" y2="83.70" stroke="#4d7494" stroke-width="1.0" />
<line x1="584.75" y1="67.75" x2="561.00" y2="74.70" stroke="#4d7494" stroke-width="1.0" />
<circle cx="560.00" cy="43.10" r="1.4" fill="#1f9e3a" />
<text x="554.70" y="39.97" font-size="4.1" font-weight="normal" text-anchor="start" fill="#333" stroke="#333" stroke-width="0.15">PCNT</text>
<circle cx="568.40" cy="47.25" r="1.4" fill="#1f9e3a" />
<text x="565.00" y="44.47" font-size="4.1" font-weight="normal" text-anchor="start" fill="#333" stroke="#333" stroke-width="0.15">CNTRL</text>
<circle cx="561.60" cy="56.50" r="1.4" fill="#1f9e3a" />
<text x="551.00" y="53.97" font-size="4.1" font-weight="normal" text-anchor="start" fill="#333" stroke="#333" stroke-width="0.15">CENPF</text>
<circle cx="576.90" cy="34.00" r="1.4" fill="#1f9e3a" />
<text x="579.00" y="35.77" font-size="4.1" font-weight="normal" text-anchor="start" fill="#333" stroke="#333" stroke-width="0.15">CEP43</text>
<circle cx="588.50" cy="43.75" r="1.4" fill="#1f9e3a" />
<text x="590.50" y="47.47" font-size="4.1" font-weight="normal" text-anchor="start" fill="#333" stroke="#333" stroke-width="0.15">CEP135</text>
<circle cx="590.60" cy="85.60" r="1.4" fill="#e8141a" />
<text x="592.80" y="87.67" font-size="4.1" font-weight="normal" text-anchor="start" fill="#333" stroke="#333" stroke-width="0.15">GOLGB1</text>
<circle cx="581.20" cy="86.90" r="1.4" fill="#e8141a" />
<text x="581.50" y="93.47" font-size="4.1" font-weight="normal" text-anchor="start" fill="#333" stroke="#333" stroke-width="0.15">GCC2</text>
<circle cx="569.40" cy="83.70" r="1.4" fill="#e8141a" />
<text x="565.50" y="89.47" font-size="4.1" font-weight="normal" text-anchor="start" fill="#333" stroke="#333" stroke-width="0.15">FYCO1</text>
<circle cx="561.00" cy="74.70" r="1.4" fill="#e8141a" />
<text x="550.00" y="72.97" font-size="4.1" font-weight="normal" text-anchor="start" fill="#333" stroke="#333" stroke-width="0.15">PRKAR2B</text>
<path d="M584.75,64.75 L587.75,67.75 L584.75,70.75 L581.75,67.75 Z" fill="#0a0f8c"/>
<text x="588.00" y="72.50" font-size="5.6" font-weight="normal" text-anchor="start" fill="#222" stroke="#222" stroke-width="0.15">Nsp13</text>
<line x1="545.70" y1="80.20" x2="536.50" y2="89.80" stroke="#4d7494" stroke-width="1.0" />
<circle cx="536.50" cy="89.80" r="1.4" fill="#e8141a" />
<text x="538.00" y="92.77" font-size="4.1" font-weight="normal" text-anchor="start" fill="#333" stroke="#333" stroke-width="0.15">SCARB1</text>
<path d="M545.70,77.20 L548.70,80.20 L545.70,83.20 L542.70,80.20 Z" fill="#0a0f8c"/>
<text x="549.00" y="84.00" font-size="5.6" font-weight="normal" text-anchor="start" fill="#222" stroke="#222" stroke-width="0.15">Nsp7</text>
<line x1="622.00" y1="54.00" x2="610.25" y2="41.00" stroke="#4d7494" stroke-width="0.9" />
<circle cx="610.25" cy="41.00" r="1.25" fill="#1f9e3a" />
<line x1="622.00" y1="54.00" x2="612.90" y2="63.00" stroke="#4d7494" stroke-width="0.9" />
<circle cx="612.90" cy="63.00" r="1.25" fill="#e8141a" />
<text x="604.50" y="38.47" font-size="4.1" font-weight="normal" text-anchor="start" fill="#333" stroke="#333" stroke-width="0.15">ZNF503</text>
<text x="614.50" y="67.47" font-size="4.1" font-weight="normal" text-anchor="start" fill="#333" stroke="#333" stroke-width="0.15">NE</text>
<line x1="470.25" y1="160.60" x2="467.80" y2="124.40" stroke="#4d7494" stroke-width="1.0" />
<line x1="470.25" y1="160.60" x2="450.90" y2="128.75" stroke="#4d7494" stroke-width="1.0" />
<line x1="470.25" y1="160.60" x2="481.90" y2="130.60" stroke="#4d7494" stroke-width="1.0" />
<line x1="470.25" y1="160.60" x2="439.70" y2="137.20" stroke="#4d7494" stroke-width="1.0" />
<line x1="470.25" y1="160.60" x2="427.50" y2="151.25" stroke="#4d7494" stroke-width="1.0" />
<line x1="470.25" y1="160.60" x2="429.00" y2="164.40" stroke="#4d7494" stroke-width="1.0" />
<line x1="470.25" y1="160.60" x2="430.00" y2="174.70" stroke="#4d7494" stroke-width="1.0" />
<line x1="470.25" y1="160.60" x2="438.40" y2="182.20" stroke="#4d7494" stroke-width="1.0" />
<line x1="470.25" y1="160.60" x2="448.10" y2="185.00" stroke="#4d7494" stroke-width="1.0" />
<line x1="470.25" y1="160.60" x2="457.50" y2="192.00" stroke="#4d7494" stroke-width="1.0" />
<line x1="470.25" y1="160.60" x2="470.00" y2="193.40" stroke="#4d7494" stroke-width="1.0" />
<line x1="470.25" y1="160.60" x2="481.50" y2="190.60" stroke="#4d7494" stroke-width="1.0" />
<line x1="470.25" y1="160.60" x2="492.60" y2="188.00" stroke="#4d7494" stroke-width="1.0" />
<line x1="470.25" y1="160.60" x2="494.40" y2="137.10" stroke="#4d7494" stroke-width="1.0" />
<line x1="470.25" y1="160.60" x2="499.60" y2="147.10" stroke="#4d7494" stroke-width="1.0" />
<line x1="470.25" y1="160.60" x2="501.50" y2="159.30" stroke="#4d7494" stroke-width="1.0" />
<circle cx="467.80" cy="124.40" r="1.4" fill="#1f9e3a" />
<text x="470.00" y="126.97" font-size="4.1" font-weight="normal" text-anchor="start" fill="#333" stroke="#333" stroke-width="0.15">SMOC1</text>
<circle cx="450.90" cy="128.75" r="1.4" fill="#1f9e3a" />
<text x="453.50" y="131.47" font-size="4.1" font-weight="normal" text-anchor="start" fill="#333" stroke="#333" stroke-width="0.15">INHBE</text>
<circle cx="481.90" cy="130.60" r="1.4" fill="#1f9e3a" />
<text x="484.00" y="133.17" font-size="4.1" font-weight="normal" text-anchor="start" fill="#333" stroke="#333" stroke-width="0.15">HYOU1</text>
<circle cx="439.70" cy="137.20" r="1.4" fill="#1f9e3a" />
<text x="430.50" y="134.97" font-size="4.1" font-weight="normal" text-anchor="start" fill="#333" stroke="#333" stroke-width="0.15">FOXRED2</text>
<circle cx="427.50" cy="151.25" r="1.4" fill="#1f9e3a" />
<text x="430.30" y="150.97" font-size="4.1" font-weight="normal" text-anchor="start" fill="#333" stroke="#333" stroke-width="0.15">ADAMTS1</text>
<circle cx="429.00" cy="164.40" r="1.4" fill="#e8141a" />
<text x="430.00" y="170.97" font-size="4.1" font-weight="normal" text-anchor="start" fill="#333" stroke="#333" stroke-width="0.15">GGH</text>
<circle cx="430.00" cy="174.70" r="1.4" fill="#e8141a" />
<text x="424.00" y="180.97" font-size="4.1" font-weight="normal" text-anchor="start" fill="#333" stroke="#333" stroke-width="0.15">ERO1B</text>
<circle cx="438.40" cy="182.20" r="1.4" fill="#e8141a" />
<text x="434.50" y="187.97" font-size="4.1" font-weight="normal" text-anchor="start" fill="#333" stroke="#333" stroke-width="0.15">NPC2</text>
<circle cx="448.10" cy="185.00" r="1.4" fill="#e8141a" />
<text x="450.00" y="187.97" font-size="4.1" font-weight="normal" text-anchor="start" fill="#333" stroke="#333" stroke-width="0.15">PVR</text>
<circle cx="457.50" cy="192.00" r="1.4" fill="#1f9e3a" />
<text x="451.50" y="197.97" font-size="4.1" font-weight="normal" text-anchor="start" fill="#333" stroke="#333" stroke-width="0.15">COL6A1</text>
<circle cx="470.00" cy="193.40" r="1.4" fill="#1f9e3a" />
<text x="470.50" y="197.97" font-size="4.1" font-weight="normal" text-anchor="start" fill="#333" stroke="#333" stroke-width="0.15">PLOD2</text>
<circle cx="481.50" cy="190.60" r="1.4" fill="#1f9e3a" />
<text x="483.50" y="192.97" font-size="4.1" font-weight="normal" text-anchor="start" fill="#333" stroke="#333" stroke-width="0.15">LOX</text>
<circle cx="492.60" cy="188.00" r="1.4" fill="#1f9e3a" />
<text x="494.50" y="191.27" font-size="4.1" font-weight="normal" text-anchor="start" fill="#333" stroke="#333" stroke-width="0.15">PUSL1</text>
<circle cx="494.40" cy="137.10" r="1.4" fill="#1f9e3a" />
<text x="496.30" y="139.67" font-size="4.1" font-weight="normal" text-anchor="start" fill="#333" stroke="#333" stroke-width="0.15">NPTX1</text>
<circle cx="499.60" cy="147.10" r="1.4" fill="#1f9e3a" />
<text x="501.50" y="150.97" font-size="4.1" font-weight="normal" text-anchor="start" fill="#333" stroke="#333" stroke-width="0.15">HS6ST2</text>
<circle cx="501.50" cy="159.30" r="1.4" fill="#1f9e3a" />
<text x="503.30" y="161.67" font-size="4.1" font-weight="normal" text-anchor="start" fill="#333" stroke="#333" stroke-width="0.15">DNMT1</text>
<path d="M470.25,157.60 L473.25,160.60 L470.25,163.60 L467.25,160.60 Z" fill="#0a0f8c"/>
<text x="474.30" y="165.50" font-size="5.6" font-weight="normal" text-anchor="start" fill="#222" stroke="#222" stroke-width="0.15">Orf8</text>
<line x1="522.20" y1="145.20" x2="516.00" y2="127.00" stroke="#4d7494" stroke-width="1.0" />
<line x1="522.20" y1="145.20" x2="534.40" y2="129.50" stroke="#4d7494" stroke-width="1.0" />
<line x1="522.20" y1="145.20" x2="543.00" y2="141.20" stroke="#4d7494" stroke-width="1.0" />
<circle cx="516.00" cy="127.00" r="1.4" fill="#1f9e3a" />
<text x="517.50" y="125.77" font-size="4.1" font-weight="normal" text-anchor="start" fill="#333" stroke="#333" stroke-width="0.15">TMEM39B</text>
<circle cx="534.40" cy="129.50" r="1.4" fill="#1f9e3a" />
<text x="536.50" y="134.07" font-size="4.1" font-weight="normal" text-anchor="start" fill="#333" stroke="#333" stroke-width="0.15">UBXN8</text>
<circle cx="543.00" cy="141.20" r="1.4" fill="#1f9e3a" />
<text x="545.00" y="144.27" font-size="4.1" font-weight="normal" text-anchor="start" fill="#333" stroke="#333" stroke-width="0.15">NLRX1</text>
<path d="M522.20,142.20 L525.20,145.20 L522.20,148.20 L519.20,145.20 Z" fill="#0a0f8c"/>
<text x="525.80" y="149.50" font-size="5.6" font-weight="normal" text-anchor="start" fill="#222" stroke="#222" stroke-width="0.15">Orf9c</text>
<line x1="569.60" y1="138.50" x2="560.70" y2="128.20" stroke="#4d7494" stroke-width="1.0" />
<circle cx="560.70" cy="128.20" r="1.4" fill="#1f9e3a" />
<text x="563.00" y="130.47" font-size="4.1" font-weight="normal" text-anchor="start" fill="#333" stroke="#333" stroke-width="0.15">SLC27A2</text>
<path d="M569.60,135.50 L572.60,138.50 L569.60,141.50 L566.60,138.50 Z" fill="#0a0f8c"/>
<text x="573.00" y="143.30" font-size="5.6" font-weight="normal" text-anchor="start" fill="#222" stroke="#222" stroke-width="0.15">Nsp2</text>
<line x1="550.65" y1="170.40" x2="537.60" y2="158.00" stroke="#4d7494" stroke-width="1.0" />
<line x1="550.65" y1="170.40" x2="562.30" y2="158.00" stroke="#4d7494" stroke-width="1.0" />
<circle cx="537.60" cy="158.00" r="1.4" fill="#1f9e3a" />
<text x="540.00" y="160.77" font-size="4.1" font-weight="normal" text-anchor="start" fill="#333" stroke="#333" stroke-width="0.15">TRIM59</text>
<circle cx="562.30" cy="158.00" r="1.4" fill="#1f9e3a" />
<text x="564.50" y="160.77" font-size="4.1" font-weight="normal" text-anchor="start" fill="#333" stroke="#333" stroke-width="0.15">HMOX1</text>
<path d="M550.65,167.40 L553.65,170.40 L550.65,173.40 L547.65,170.40 Z" fill="#0a0f8c"/>
<text x="554.00" y="175.30" font-size="5.6" font-weight="normal" text-anchor="start" fill="#222" stroke="#222" stroke-width="0.15">Orf3a</text>
<line x1="525.40" y1="171.80" x2="514.90" y2="181.80" stroke="#4d7494" stroke-width="1.0" />
<circle cx="514.90" cy="181.80" r="1.4" fill="#e8141a" />
<text x="517.00" y="186.27" font-size="4.1" font-weight="normal" text-anchor="start" fill="#333" stroke="#333" stroke-width="0.15">SLC9A3R1</text>
<path d="M525.40,168.80 L528.40,171.80 L525.40,174.80 L522.40,171.80 Z" fill="#0a0f8c"/>
<text x="528.80" y="177.00" font-size="5.6" font-weight="normal" text-anchor="start" fill="#222" stroke="#222" stroke-width="0.15">Orf9b</text>
<line x1="593.30" y1="182.60" x2="577.00" y2="170.20" stroke="#4d7494" stroke-width="1.0" />
<line x1="593.30" y1="182.60" x2="595.30" y2="163.50" stroke="#4d7494" stroke-width="1.0" />
<line x1="593.30" y1="182.60" x2="613.40" y2="168.40" stroke="#4d7494" stroke-width="1.0" />
<line x1="593.30" y1="182.60" x2="572.60" y2="185.70" stroke="#4d7494" stroke-width="1.0" />
<circle cx="577.00" cy="170.20" r="1.4" fill="#1f9e3a" />
<text x="579.50" y="171.67" font-size="4.1" font-weight="normal" text-anchor="start" fill="#333" stroke="#333" stroke-width="0.15">POLA2</text>
<circle cx="595.30" cy="163.50" r="1.4" fill="#1f9e3a" />
<text x="597.50" y="168.77" font-size="4.1" font-weight="normal" text-anchor="start" fill="#333" stroke="#333" stroke-width="0.15">PRIM1</text>
<circle cx="613.40" cy="168.40" r="1.4" fill="#1f9e3a" />
<text x="610.30" y="174.27" font-size="4.1" font-weight="normal" text-anchor="start" fill="#333" stroke="#333" stroke-width="0.15">COL</text>
<circle cx="572.60" cy="185.70" r="1.4" fill="#e8141a" />
<text x="571.00" y="182.67" font-size="4.1" font-weight="normal" text-anchor="start" fill="#333" stroke="#333" stroke-width="0.15">PRIM2</text>
<path d="M593.30,179.60 L596.30,182.60 L593.30,185.60 L590.30,182.60 Z" fill="#0a0f8c"/>
<text x="597.50" y="185.20" font-size="5.6" font-weight="normal" text-anchor="start" fill="#222" stroke="#222" stroke-width="0.15">Nsp1</text>
<rect x="613.1" y="187.1" width="10" height="42" fill="#fff" stroke="#999" stroke-width="0.6"/>
<path d="M619.60,217.20 L621.90,219.50 L619.60,221.80 L617.30,219.50 Z" fill="#0a0f8c"/>
<text x="80.80" y="250.46" font-size="8.0" font-weight="bold" text-anchor="end" fill="#111" >Valproic Acid (mM) – 24 HR</text>
<line x1="0.00" y1="253.80" x2="87.80" y2="253.80" stroke="#888" stroke-width="0.8" />
<text x="80.00" y="377.26" font-size="8.0" font-weight="bold" text-anchor="end" fill="#111" >Valproic Acid (mM) – 48 HR</text>
<line x1="0.00" y1="380.00" x2="89.00" y2="380.00" stroke="#888" stroke-width="0.8" />
<text x="6.20" y="269.72" font-size="4.8" font-weight="normal" text-anchor="middle" fill="#333" stroke="#333" stroke-width="0.1">0.1</text>
<text x="20.60" y="269.72" font-size="4.8" font-weight="normal" text-anchor="middle" fill="#333" stroke="#333" stroke-width="0.1">0.7</text>
<text x="34.20" y="269.72" font-size="4.8" font-weight="normal" text-anchor="middle" fill="#333" stroke="#333" stroke-width="0.1">1.5</text>
<text x="48.80" y="269.72" font-size="4.8" font-weight="normal" text-anchor="middle" fill="#333" stroke="#333" stroke-width="0.1">3</text>
<text x="62.60" y="269.72" font-size="4.8" font-weight="normal" text-anchor="middle" fill="#333" stroke="#333" stroke-width="0.1">5</text>
<text x="7.70" y="395.02" font-size="4.8" font-weight="normal" text-anchor="middle" fill="#333" stroke="#333" stroke-width="0.1">0.1</text>
<text x="21.30" y="395.02" font-size="4.8" font-weight="normal" text-anchor="middle" fill="#333" stroke="#333" stroke-width="0.1">0.7</text>
<text x="36.80" y="395.02" font-size="4.8" font-weight="normal" text-anchor="middle" fill="#333" stroke="#333" stroke-width="0.1">1.5</text>
<text x="51.00" y="395.02" font-size="4.8" font-weight="normal" text-anchor="middle" fill="#333" stroke="#333" stroke-width="0.1">3</text>
<text x="65.80" y="395.02" font-size="4.8" font-weight="normal" text-anchor="middle" fill="#333" stroke="#333" stroke-width="0.1">5</text>
<defs><filter id="bl" x="-30%" y="-100%" width="160%" height="300%"><feGaussianBlur stdDeviation="0.6"/></filter></defs>
<rect x="0.00" y="272.50" width="73.80" height="12.60" fill="#cfcfcf" />
<g filter="url(#bl)"><rect x="3.60" y="275.50" width="9.90" height="2.20" rx="1.10" fill="#000" fill-opacity="0.9"/><rect x="4.20" y="280.90" width="8.80" height="1.60" rx="0.80" fill="#000" fill-opacity="0.7"/><rect x="18.50" y="275.80" width="9.00" height="1.40" rx="0.70" fill="#000" fill-opacity="0.15"/><rect x="33.00" y="275.80" width="9.00" height="1.40" rx="0.70" fill="#000" fill-opacity="0.1"/><rect x="47.00" y="275.90" width="8.00" height="1.20" rx="0.60" fill="#000" fill-opacity="0.08"/><rect x="61.00" y="275.90" width="9.00" height="1.20" rx="0.60" fill="#000" fill-opacity="0.08"/><rect x="4.50" y="276.50" width="8.50" height="5.00" rx="2.50" fill="#000" fill-opacity="0.15"/></g>
<text x="77.30" y="279.15" font-size="6.0" font-weight="normal" text-anchor="start" fill="#222" stroke="#222" stroke-width="0.12">PCNT</text>
<rect x="0.00" y="290.90" width="73.80" height="12.50" fill="#cfcfcf" />
<g filter="url(#bl)"><rect x="3.20" y="295.85" width="9.70" height="3.90" rx="1.95" fill="#000" fill-opacity="1"/><rect x="18.00" y="296.50" width="9.40" height="2.60" rx="1.30" fill="#000" fill-opacity="0.95"/><rect x="32.30" y="296.70" width="9.00" height="2.20" rx="1.10" fill="#000" fill-opacity="0.95"/><rect x="46.50" y="297.05" width="8.30" height="1.50" rx="0.75" fill="#000" fill-opacity="0.4"/><rect x="60.60" y="297.05" width="9.10" height="1.50" rx="0.75" fill="#000" fill-opacity="0.45"/></g>
<text x="77.30" y="296.75" font-size="6.0" font-weight="normal" text-anchor="start" fill="#222" stroke="#222" stroke-width="0.12">DNMT1</text>
<rect x="0.00" y="308.70" width="73.80" height="12.60" fill="#cfcfcf" />
<g filter="url(#bl)"><rect x="4.50" y="313.80" width="9.00" height="2.00" rx="1.00" fill="#000" fill-opacity="0.75"/><rect x="19.40" y="314.10" width="8.30" height="1.80" rx="0.90" fill="#000" fill-opacity="0.4"/><rect x="33.30" y="314.15" width="8.70" height="1.70" rx="0.85" fill="#000" fill-opacity="0.4"/><rect x="47.70" y="314.45" width="7.80" height="1.50" rx="0.75" fill="#000" fill-opacity="0.25"/><rect x="61.30" y="314.10" width="9.70" height="2.20" rx="1.10" fill="#000" fill-opacity="0.45"/></g>
<text x="77.30" y="314.55" font-size="6.0" font-weight="normal" text-anchor="start" fill="#222" stroke="#222" stroke-width="0.12">BRD2</text>
<rect x="0.00" y="326.80" width="73.80" height="12.90" fill="#cfcfcf" />
<g filter="url(#bl)"><rect x="4.50" y="331.90" width="9.70" height="2.60" rx="1.30" fill="#000" fill-opacity="0.95"/><rect x="19.40" y="332.25" width="8.30" height="2.10" rx="1.05" fill="#000" fill-opacity="0.85"/><rect x="33.30" y="332.40" width="8.70" height="2.00" rx="1.00" fill="#000" fill-opacity="0.85"/><rect x="47.10" y="332.65" width="7.70" height="1.50" rx="0.75" fill="#000" fill-opacity="0.35"/><rect x="60.60" y="332.65" width="9.70" height="1.50" rx="0.75" fill="#000" fill-opacity="0.35"/></g>
<text x="77.30" y="333.45" font-size="6.0" font-weight="normal" text-anchor="start" fill="#222" stroke="#222" stroke-width="0.12">HMOX1</text>
<rect x="0.00" y="345.30" width="73.80" height="12.50" fill="#cfcfcf" />
<g filter="url(#bl)"><rect x="-5.00" y="349.45" width="7.60" height="3.90" rx="1.95" fill="#000" fill-opacity="1"/><rect x="4.10" y="349.45" width="12.90" height="3.90" rx="1.95" fill="#000" fill-opacity="1"/><rect x="18.70" y="349.45" width="11.60" height="3.90" rx="1.95" fill="#000" fill-opacity="1"/><rect x="31.60" y="349.45" width="11.60" height="3.90" rx="1.95" fill="#000" fill-opacity="1"/><rect x="44.30" y="349.60" width="10.50" height="3.60" rx="1.80" fill="#000" fill-opacity="1"/><rect x="56.80" y="349.45" width="13.90" height="3.90" rx="1.95" fill="#000" fill-opacity="1"/></g>
<text x="77.30" y="352.65" font-size="6.0" font-weight="normal" text-anchor="start" fill="#222" stroke="#222" stroke-width="0.12">GAPDH</text>
<rect x="0.00" y="398.00" width="76.10" height="12.00" fill="#d4d4d4" />
<g filter="url(#bl)"><rect x="4.50" y="400.90" width="9.70" height="2.00" rx="1.00" fill="#000" fill-opacity="0.8"/><rect x="4.50" y="405.10" width="9.70" height="2.00" rx="1.00" fill="#000" fill-opacity="0.7"/><rect x="5.00" y="400.00" width="9.00" height="8.00" rx="2.50" fill="#000" fill-opacity="0.18"/><rect x="19.40" y="401.15" width="9.00" height="1.50" rx="0.75" fill="#000" fill-opacity="0.2"/><rect x="19.40" y="405.35" width="9.00" height="1.50" rx="0.75" fill="#000" fill-opacity="0.15"/><rect x="34.20" y="401.20" width="8.40" height="1.40" rx="0.70" fill="#000" fill-opacity="0.1"/><rect x="34.20" y="405.30" width="8.40" height="1.40" rx="0.70" fill="#000" fill-opacity="0.08"/></g>
<text x="78.80" y="404.15" font-size="6.0" font-weight="normal" text-anchor="start" fill="#222" stroke="#222" stroke-width="0.12">PCNT</text>
<rect x="0.00" y="414.50" width="76.10" height="11.90" fill="#d2d2d2" />
<g filter="url(#bl)"><rect x="4.50" y="418.00" width="9.70" height="5.00" rx="2.50" fill="#000" fill-opacity="1"/><rect x="5.00" y="415.80" width="8.50" height="2.00" rx="1.00" fill="#000" fill-opacity="0.7"/><rect x="18.70" y="420.20" width="9.70" height="3.00" rx="1.50" fill="#000" fill-opacity="1"/><rect x="19.00" y="417.20" width="9.00" height="2.00" rx="1.00" fill="#000" fill-opacity="0.3"/><rect x="33.30" y="420.70" width="9.90" height="2.20" rx="1.10" fill="#000" fill-opacity="0.95"/><rect x="48.40" y="421.05" width="9.00" height="1.50" rx="0.75" fill="#000" fill-opacity="0.3"/><rect x="62.60" y="421.10" width="9.00" height="1.40" rx="0.70" fill="#000" fill-opacity="0.12"/></g>
<text x="78.80" y="420.15" font-size="6.0" font-weight="normal" text-anchor="start" fill="#222" stroke="#222" stroke-width="0.12">DNMT1</text>
<rect x="0.00" y="431.80" width="75.90" height="11.60" fill="#cfcfcf" />
<g filter="url(#bl)"><rect x="3.90" y="435.40" width="10.30" height="3.20" rx="1.60" fill="#000" fill-opacity="1"/><rect x="18.70" y="435.60" width="10.30" height="2.80" rx="1.40" fill="#000" fill-opacity="0.95"/><rect x="32.90" y="435.40" width="11.00" height="2.80" rx="1.40" fill="#000" fill-opacity="0.95"/><rect x="48.40" y="435.40" width="9.60" height="1.80" rx="0.90" fill="#000" fill-opacity="0.75"/><rect x="62.60" y="435.00" width="10.30" height="2.00" rx="1.00" fill="#000" fill-opacity="0.8"/></g>
<text x="78.80" y="438.15" font-size="6.0" font-weight="normal" text-anchor="start" fill="#222" stroke="#222" stroke-width="0.12">BRD2</text>
<rect x="0.00" y="449.20" width="75.90" height="11.40" fill="#cfcfcf" />
<g filter="url(#bl)"><rect x="-3.00" y="454.20" width="7.00" height="1.60" rx="0.80" fill="#000" fill-opacity="0.4"/><rect x="5.20" y="453.75" width="10.00" height="2.50" rx="1.25" fill="#000" fill-opacity="1"/><rect x="20.00" y="454.00" width="9.00" height="2.00" rx="1.00" fill="#000" fill-opacity="0.9"/><rect x="34.80" y="454.00" width="9.70" height="2.00" rx="1.00" fill="#000" fill-opacity="0.85"/><rect x="49.70" y="454.25" width="9.00" height="1.50" rx="0.75" fill="#000" fill-opacity="0.2"/><rect x="63.90" y="454.25" width="8.40" height="1.50" rx="0.75" fill="#000" fill-opacity="0.15"/></g>
<text x="78.80" y="455.90" font-size="6.0" font-weight="normal" text-anchor="start" fill="#222" stroke="#222" stroke-width="0.12">HMOX1</text>
<rect x="0.00" y="466.60" width="75.90" height="11.00" fill="#cfcfcf" />
<g filter="url(#bl)"><rect x="-5.00" y="469.40" width="8.20" height="4.00" rx="2.00" fill="#000" fill-opacity="1"/><rect x="4.90" y="469.40" width="11.90" height="4.00" rx="2.00" fill="#000" fill-opacity="1"/><rect x="18.70" y="469.40" width="12.30" height="4.00" rx="2.00" fill="#000" fill-opacity="1"/><rect x="32.30" y="469.40" width="12.20" height="4.00" rx="2.00" fill="#000" fill-opacity="1"/><rect x="46.20" y="469.30" width="11.80" height="3.80" rx="1.90" fill="#000" fill-opacity="1"/><rect x="59.10" y="469.30" width="13.80" height="3.80" rx="1.90" fill="#000" fill-opacity="1"/></g>
<text x="78.80" y="473.75" font-size="6.0" font-weight="normal" text-anchor="start" fill="#222" stroke="#222" stroke-width="0.12">GAPDH</text>
<line x1="126.30" y1="275.80" x2="126.30" y2="332.20" stroke="#111" stroke-width="0.9" />
<line x1="125.80" y1="331.70" x2="181.70" y2="331.70" stroke="#111" stroke-width="0.9" />
<line x1="124.30" y1="331.70" x2="126.30" y2="331.70" stroke="#111" stroke-width="0.8" />
<text x="123.70" y="333.38" font-size="4.7" font-weight="bold" text-anchor="end" fill="#222" stroke="#222" stroke-width="0.15">0</text>
<line x1="124.30" y1="306.20" x2="126.30" y2="306.20" stroke="#111" stroke-width="0.8" />
<text x="123.70" y="307.88" font-size="4.7" font-weight="bold" text-anchor="end" fill="#222" stroke="#222" stroke-width="0.15">50</text>
<line x1="124.30" y1="280.70" x2="126.30" y2="280.70" stroke="#111" stroke-width="0.8" />
<text x="123.70" y="282.38" font-size="4.7" font-weight="bold" text-anchor="end" fill="#222" stroke="#222" stroke-width="0.15">100</text>
<line x1="126.30" y1="331.70" x2="126.30" y2="333.70" stroke="#111" stroke-width="0.8" />
<line x1="134.64" y1="331.70" x2="134.64" y2="332.80" stroke="#111" stroke-width="0.5" />
<line x1="139.52" y1="331.70" x2="139.52" y2="332.80" stroke="#111" stroke-width="0.5" />
<line x1="142.98" y1="331.70" x2="142.98" y2="332.80" stroke="#111" stroke-width="0.5" />
<line x1="145.66" y1="331.70" x2="145.66" y2="332.80" stroke="#111" stroke-width="0.5" />
<line x1="147.85" y1="331.70" x2="147.85" y2="332.80" stroke="#111" stroke-width="0.5" />
<line x1="149.71" y1="331.70" x2="149.71" y2="332.80" stroke="#111" stroke-width="0.5" />
<line x1="151.32" y1="331.70" x2="151.32" y2="332.80" stroke="#111" stroke-width="0.5" />
<line x1="152.73" y1="331.70" x2="152.73" y2="332.80" stroke="#111" stroke-width="0.5" />
<line x1="154.00" y1="331.70" x2="154.00" y2="333.70" stroke="#111" stroke-width="0.8" />
<line x1="162.34" y1="331.70" x2="162.34" y2="332.80" stroke="#111" stroke-width="0.5" />
<line x1="167.22" y1="331.70" x2="167.22" y2="332.80" stroke="#111" stroke-width="0.5" />
<line x1="170.68" y1="331.70" x2="170.68" y2="332.80" stroke="#111" stroke-width="0.5" />
<line x1="173.36" y1="331.70" x2="173.36" y2="332.80" stroke="#111" stroke-width="0.5" />
<line x1="175.55" y1="331.70" x2="175.55" y2="332.80" stroke="#111" stroke-width="0.5" />
<line x1="177.41" y1="331.70" x2="177.41" y2="332.80" stroke="#111" stroke-width="0.5" />
<line x1="179.02" y1="331.70" x2="179.02" y2="332.80" stroke="#111" stroke-width="0.5" />
<line x1="180.43" y1="331.70" x2="180.43" y2="332.80" stroke="#111" stroke-width="0.5" />
<line x1="181.70" y1="331.70" x2="181.70" y2="333.70" stroke="#111" stroke-width="0.8" />
<text x="126.30" y="339.02" font-size="4.8" font-weight="bold" text-anchor="middle" fill="#222" stroke="#222" stroke-width="0.15">0.1</text>
<text x="154.00" y="339.02" font-size="4.8" font-weight="bold" text-anchor="middle" fill="#222" stroke="#222" stroke-width="0.15">1</text>
<text x="181.70" y="339.02" font-size="4.8" font-weight="bold" text-anchor="middle" fill="#222" stroke="#222" stroke-width="0.15">10</text>
<text x="154.00" y="344.72" font-size="4.8" font-weight="bold" text-anchor="middle" fill="#222" stroke="#222" stroke-width="0.15">[VPA]</text>
<text transform="translate(112.00,303.50) rotate(-90)" y="1.6" font-size="5.0" font-weight="bold" text-anchor="middle" fill="#222" stroke="#222" stroke-width="0.12">%Expression</text>
<polyline points="126.30,286.82 149.71,317.42 158.88,322.52 167.22,324.56 173.36,326.60" fill="none" stroke="#444" stroke-width="0.7"/>
<circle cx="126.30" cy="286.82" r="1.3" fill="#111" />
<circle cx="149.71" cy="317.42" r="1.3" fill="#111" />
<circle cx="158.88" cy="322.52" r="1.3" fill="#111" />
<circle cx="167.22" cy="324.56" r="1.3" fill="#111" />
<circle cx="173.36" cy="326.60" r="1.3" fill="#111" />
<text x="152.40" y="270.48" font-size="7.2" font-weight="bold" text-anchor="middle" fill="#111" >PCNT</text>
<line x1="200.80" y1="275.40" x2="200.80" y2="331.80" stroke="#111" stroke-width="0.9" />
<line x1="200.30" y1="331.30" x2="256.20" y2="331.30" stroke="#111" stroke-width="0.9" />
<line x1="198.80" y1="331.30" x2="200.80" y2="331.30" stroke="#111" stroke-width="0.8" />
<text x="198.20" y="332.98" font-size="4.7" font-weight="bold" text-anchor="end" fill="#222" stroke="#222" stroke-width="0.15">0</text>
<line x1="198.80" y1="305.80" x2="200.80" y2="305.80" stroke="#111" stroke-width="0.8" />
<text x="198.20" y="307.48" font-size="4.7" font-weight="bold" text-anchor="end" fill="#222" stroke="#222" stroke-width="0.15">50</text>
<line x1="198.80" y1="280.30" x2="200.80" y2="280.30" stroke="#111" stroke-width="0.8" />
<text x="198.20" y="281.98" font-size="4.7" font-weight="bold" text-anchor="end" fill="#222" stroke="#222" stroke-width="0.15">100</text>
<line x1="200.80" y1="331.30" x2="200.80" y2="333.30" stroke="#111" stroke-width="0.8" />
<line x1="209.14" y1="331.30" x2="209.14" y2="332.40" stroke="#111" stroke-width="0.5" />
<line x1="214.02" y1="331.30" x2="214.02" y2="332.40" stroke="#111" stroke-width="0.5" />
<line x1="217.48" y1="331.30" x2="217.48" y2="332.40" stroke="#111" stroke-width="0.5" />
<line x1="220.16" y1="331.30" x2="220.16" y2="332.40" stroke="#111" stroke-width="0.5" />
<line x1="222.35" y1="331.30" x2="222.35" y2="332.40" stroke="#111" stroke-width="0.5" />
<line x1="224.21" y1="331.30" x2="224.21" y2="332.40" stroke="#111" stroke-width="0.5" />
<line x1="225.82" y1="331.30" x2="225.82" y2="332.40" stroke="#111" stroke-width="0.5" />
<line x1="227.23" y1="331.30" x2="227.23" y2="332.40" stroke="#111" stroke-width="0.5" />
<line x1="228.50" y1="331.30" x2="228.50" y2="333.30" stroke="#111" stroke-width="0.8" />
<line x1="236.84" y1="331.30" x2="236.84" y2="332.40" stroke="#111" stroke-width="0.5" />
<line x1="241.72" y1="331.30" x2="241.72" y2="332.40" stroke="#111" stroke-width="0.5" />
<line x1="245.18" y1="331.30" x2="245.18" y2="332.40" stroke="#111" stroke-width="0.5" />
<line x1="247.86" y1="331.30" x2="247.86" y2="332.40" stroke="#111" stroke-width="0.5" />
<line x1="250.05" y1="331.30" x2="250.05" y2="332.40" stroke="#111" stroke-width="0.5" />
<line x1="251.91" y1="331.30" x2="251.91" y2="332.40" stroke="#111" stroke-width="0.5" />
<line x1="253.52" y1="331.30" x2="253.52" y2="332.40" stroke="#111" stroke-width="0.5" />
<line x1="254.93" y1="331.30" x2="254.93" y2="332.40" stroke="#111" stroke-width="0.5" />
<line x1="256.20" y1="331.30" x2="256.20" y2="333.30" stroke="#111" stroke-width="0.8" />
<text x="200.80" y="338.62" font-size="4.8" font-weight="bold" text-anchor="middle" fill="#222" stroke="#222" stroke-width="0.15">0.1</text>
<text x="228.50" y="338.62" font-size="4.8" font-weight="bold" text-anchor="middle" fill="#222" stroke="#222" stroke-width="0.15">1</text>
<text x="256.20" y="338.62" font-size="4.8" font-weight="bold" text-anchor="middle" fill="#222" stroke="#222" stroke-width="0.15">10</text>
<text x="228.50" y="344.72" font-size="4.8" font-weight="bold" text-anchor="middle" fill="#222" stroke="#222" stroke-width="0.15">[VPA]</text>
<text transform="translate(186.90,303.50) rotate(-90)" y="1.6" font-size="5.0" font-weight="bold" text-anchor="middle" fill="#222" stroke="#222" stroke-width="0.12">% Expression</text>
<polyline points="200.80,280.30 224.21,293.56 233.38,305.29 241.72,325.69 247.86,325.69" fill="none" stroke="#444" stroke-width="0.7"/>
<circle cx="200.80" cy="280.30" r="1.3" fill="#111" />
<circle cx="224.21" cy="293.56" r="1.3" fill="#111" />
<circle cx="233.38" cy="305.29" r="1.3" fill="#111" />
<circle cx="241.72" cy="325.69" r="1.3" fill="#111" />
<circle cx="247.86" cy="325.69" r="1.3" fill="#111" />
<text x="227.20" y="270.48" font-size="7.2" font-weight="bold" text-anchor="middle" fill="#111" >DNMT1</text>
<line x1="272.80" y1="274.80" x2="272.80" y2="331.60" stroke="#111" stroke-width="0.9" />
<line x1="272.30" y1="331.10" x2="328.20" y2="331.10" stroke="#111" stroke-width="0.9" />
<line x1="270.80" y1="331.10" x2="272.80" y2="331.10" stroke="#111" stroke-width="0.8" />
<text x="270.20" y="332.78" font-size="4.7" font-weight="bold" text-anchor="end" fill="#222" stroke="#222" stroke-width="0.15">0</text>
<line x1="270.80" y1="305.70" x2="272.80" y2="305.70" stroke="#111" stroke-width="0.8" />
<text x="270.20" y="307.38" font-size="4.7" font-weight="bold" text-anchor="end" fill="#222" stroke="#222" stroke-width="0.15">50</text>
<line x1="270.80" y1="280.30" x2="272.80" y2="280.30" stroke="#111" stroke-width="0.8" />
<text x="270.20" y="281.98" font-size="4.7" font-weight="bold" text-anchor="end" fill="#222" stroke="#222" stroke-width="0.15">100</text>
<line x1="271.80" y1="331.10" x2="272.80" y2="331.10" stroke="#111" stroke-width="0.5" />
<line x1="271.80" y1="326.02" x2="272.80" y2="326.02" stroke="#111" stroke-width="0.5" />
<line x1="271.80" y1="320.94" x2="272.80" y2="320.94" stroke="#111" stroke-width="0.5" />
<line x1="271.80" y1="315.86" x2="272.80" y2="315.86" stroke="#111" stroke-width="0.5" />
<line x1="271.80" y1="310.78" x2="272.80" y2="310.78" stroke="#111" stroke-width="0.5" />
<line x1="271.80" y1="305.70" x2="272.80" y2="305.70" stroke="#111" stroke-width="0.5" />
<line x1="271.80" y1="300.62" x2="272.80" y2="300.62" stroke="#111" stroke-width="0.5" />
<line x1="271.80" y1="295.54" x2="272.80" y2="295.54" stroke="#111" stroke-width="0.5" />
<line x1="271.80" y1="290.46" x2="272.80" y2="290.46" stroke="#111" stroke-width="0.5" />
<line x1="271.80" y1="285.38" x2="272.80" y2="285.38" stroke="#111" stroke-width="0.5" />
<line x1="271.80" y1="280.30" x2="272.80" y2="280.30" stroke="#111" stroke-width="0.5" />
<line x1="271.80" y1="275.22" x2="272.80" y2="275.22" stroke="#111" stroke-width="0.5" />
<line x1="272.80" y1="331.10" x2="272.80" y2="333.10" stroke="#111" stroke-width="0.8" />
<line x1="281.14" y1="331.10" x2="281.14" y2="332.20" stroke="#111" stroke-width="0.5" />
<line x1="286.02" y1="331.10" x2="286.02" y2="332.20" stroke="#111" stroke-width="0.5" />
<line x1="289.48" y1="331.10" x2="289.48" y2="332.20" stroke="#111" stroke-width="0.5" />
<line x1="292.16" y1="331.10" x2="292.16" y2="332.20" stroke="#111" stroke-width="0.5" />
<line x1="294.35" y1="331.10" x2="294.35" y2="332.20" stroke="#111" stroke-width="0.5" />
<line x1="296.21" y1="331.10" x2="296.21" y2="332.20" stroke="#111" stroke-width="0.5" />
<line x1="297.82" y1="331.10" x2="297.82" y2="332.20" stroke="#111" stroke-width="0.5" />
<line x1="299.23" y1="331.10" x2="299.23" y2="332.20" stroke="#111" stroke-width="0.5" />
<line x1="300.50" y1="331.10" x2="300.50" y2="333.10" stroke="#111" stroke-width="0.8" />
<line x1="308.84" y1="331.10" x2="308.84" y2="332.20" stroke="#111" stroke-width="0.5" />
<line x1="313.72" y1="331.10" x2="313.72" y2="332.20" stroke="#111" stroke-width="0.5" />
<line x1="317.18" y1="331.10" x2="317.18" y2="332.20" stroke="#111" stroke-width="0.5" />
<line x1="319.86" y1="331.10" x2="319.86" y2="332.20" stroke="#111" stroke-width="0.5" />
<line x1="322.05" y1="331.10" x2="322.05" y2="332.20" stroke="#111" stroke-width="0.5" />
<line x1="323.91" y1="331.10" x2="323.91" y2="332.20" stroke="#111" stroke-width="0.5" />
<line x1="325.52" y1="331.10" x2="325.52" y2="332.20" stroke="#111" stroke-width="0.5" />
<line x1="326.93" y1="331.10" x2="326.93" y2="332.20" stroke="#111" stroke-width="0.5" />
<line x1="328.20" y1="331.10" x2="328.20" y2="333.10" stroke="#111" stroke-width="0.8" />
<text x="272.80" y="338.42" font-size="4.8" font-weight="bold" text-anchor="middle" fill="#222" stroke="#222" stroke-width="0.15">0.1</text>
<text x="300.50" y="338.42" font-size="4.8" font-weight="bold" text-anchor="middle" fill="#222" stroke="#222" stroke-width="0.15">1</text>
<text x="328.20" y="338.42" font-size="4.8" font-weight="bold" text-anchor="middle" fill="#222" stroke="#222" stroke-width="0.15">10</text>
<text x="300.50" y="344.72" font-size="4.8" font-weight="bold" text-anchor="middle" fill="#222" stroke="#222" stroke-width="0.15">[VPA]</text>
<text transform="translate(258.60,303.50) rotate(-90)" y="1.6" font-size="5.0" font-weight="bold" text-anchor="middle" fill="#222" stroke="#222" stroke-width="0.12">% Expression</text>
<polyline points="272.80,277.76 296.21,297.06 305.38,299.60 313.72,308.75 319.86,300.62" fill="none" stroke="#444" stroke-width="0.7"/>
<circle cx="272.80" cy="277.76" r="1.3" fill="#111" />
<circle cx="296.21" cy="297.06" r="1.3" fill="#111" />
<circle cx="305.38" cy="299.60" r="1.3" fill="#111" />
<circle cx="313.72" cy="308.75" r="1.3" fill="#111" />
<circle cx="319.86" cy="300.62" r="1.3" fill="#111" />
<text x="299.00" y="270.48" font-size="7.2" font-weight="bold" text-anchor="middle" fill="#111" >BRD2</text>
<line x1="345.20" y1="274.80" x2="345.20" y2="331.60" stroke="#111" stroke-width="0.9" />
<line x1="344.70" y1="331.10" x2="400.40" y2="331.10" stroke="#111" stroke-width="0.9" />
<line x1="343.20" y1="331.10" x2="345.20" y2="331.10" stroke="#111" stroke-width="0.8" />
<text x="342.60" y="332.78" font-size="4.7" font-weight="bold" text-anchor="end" fill="#222" stroke="#222" stroke-width="0.15">0</text>
<line x1="343.20" y1="305.70" x2="345.20" y2="305.70" stroke="#111" stroke-width="0.8" />
<text x="342.60" y="307.38" font-size="4.7" font-weight="bold" text-anchor="end" fill="#222" stroke="#222" stroke-width="0.15">50</text>
<line x1="343.20" y1="280.30" x2="345.20" y2="280.30" stroke="#111" stroke-width="0.8" />
<text x="342.60" y="281.98" font-size="4.7" font-weight="bold" text-anchor="end" fill="#222" stroke="#222" stroke-width="0.15">100</text>
<line x1="345.20" y1="331.10" x2="345.20" y2="333.10" stroke="#111" stroke-width="0.8" />
<line x1="353.51" y1="331.10" x2="353.51" y2="332.20" stroke="#111" stroke-width="0.5" />
<line x1="358.37" y1="331.10" x2="358.37" y2="332.20" stroke="#111" stroke-width="0.5" />
<line x1="361.82" y1="331.10" x2="361.82" y2="332.20" stroke="#111" stroke-width="0.5" />
<line x1="364.49" y1="331.10" x2="364.49" y2="332.20" stroke="#111" stroke-width="0.5" />
<line x1="366.68" y1="331.10" x2="366.68" y2="332.20" stroke="#111" stroke-width="0.5" />
<line x1="368.52" y1="331.10" x2="368.52" y2="332.20" stroke="#111" stroke-width="0.5" />
<line x1="370.13" y1="331.10" x2="370.13" y2="332.20" stroke="#111" stroke-width="0.5" />
<line x1="371.54" y1="331.10" x2="371.54" y2="332.20" stroke="#111" stroke-width="0.5" />
<line x1="372.80" y1="331.10" x2="372.80" y2="333.10" stroke="#111" stroke-width="0.8" />
<line x1="381.11" y1="331.10" x2="381.11" y2="332.20" stroke="#111" stroke-width="0.5" />
<line x1="385.97" y1="331.10" x2="385.97" y2="332.20" stroke="#111" stroke-width="0.5" />
<line x1="389.42" y1="331.10" x2="389.42" y2="332.20" stroke="#111" stroke-width="0.5" />
<line x1="392.09" y1="331.10" x2="392.09" y2="332.20" stroke="#111" stroke-width="0.5" />
<line x1="394.28" y1="331.10" x2="394.28" y2="332.20" stroke="#111" stroke-width="0.5" />
<line x1="396.12" y1="331.10" x2="396.12" y2="332.20" stroke="#111" stroke-width="0.5" />
<line x1="397.73" y1="331.10" x2="397.73" y2="332.20" stroke="#111" stroke-width="0.5" />
<line x1="399.14" y1="331.10" x2="399.14" y2="332.20" stroke="#111" stroke-width="0.5" />
<line x1="400.40" y1="331.10" x2="400.40" y2="333.10" stroke="#111" stroke-width="0.8" />
<text x="345.20" y="338.42" font-size="4.8" font-weight="bold" text-anchor="middle" fill="#222" stroke="#222" stroke-width="0.15">0.1</text>
<text x="372.80" y="338.42" font-size="4.8" font-weight="bold" text-anchor="middle" fill="#222" stroke="#222" stroke-width="0.15">1</text>
<text x="400.40" y="338.42" font-size="4.8" font-weight="bold" text-anchor="middle" fill="#222" stroke="#222" stroke-width="0.15">10</text>
<text x="372.80" y="344.72" font-size="4.8" font-weight="bold" text-anchor="middle" fill="#222" stroke="#222" stroke-width="0.15">[VPA]</text>
<text transform="translate(331.50,303.50) rotate(-90)" y="1.6" font-size="5.0" font-weight="bold" text-anchor="middle" fill="#222" stroke="#222" stroke-width="0.12">% Expression</text>
<polyline points="345.20,277.76 368.52,290.46 377.66,300.62 385.97,319.42 392.09,318.91" fill="none" stroke="#444" stroke-width="0.7"/>
<circle cx="345.20" cy="277.76" r="1.3" fill="#111" />
<circle cx="368.52" cy="290.46" r="1.3" fill="#111" />
<circle cx="377.66" cy="300.62" r="1.3" fill="#111" />
<circle cx="385.97" cy="319.42" r="1.3" fill="#111" />
<circle cx="392.09" cy="318.91" r="1.3" fill="#111" />
<text x="371.50" y="269.48" font-size="7.2" font-weight="bold" text-anchor="middle" fill="#111" >HMOX1</text>
<line x1="125.00" y1="403.10" x2="125.00" y2="459.90" stroke="#111" stroke-width="0.9" />
<line x1="124.50" y1="459.40" x2="180.20" y2="459.40" stroke="#111" stroke-width="0.9" />
<line x1="123.00" y1="459.40" x2="125.00" y2="459.40" stroke="#111" stroke-width="0.8" />
<text x="122.40" y="461.08" font-size="4.7" font-weight="bold" text-anchor="end" fill="#222" stroke="#222" stroke-width="0.15">0</text>
<line x1="123.00" y1="435.10" x2="125.00" y2="435.10" stroke="#111" stroke-width="0.8" />
<text x="122.40" y="436.78" font-size="4.7" font-weight="bold" text-anchor="end" fill="#222" stroke="#222" stroke-width="0.15">50</text>
<line x1="123.00" y1="410.80" x2="125.00" y2="410.80" stroke="#111" stroke-width="0.8" />
<text x="122.40" y="412.48" font-size="4.7" font-weight="bold" text-anchor="end" fill="#222" stroke="#222" stroke-width="0.15">100</text>
<line x1="125.00" y1="459.40" x2="125.00" y2="461.40" stroke="#111" stroke-width="0.8" />
<line x1="133.31" y1="459.40" x2="133.31" y2="460.50" stroke="#111" stroke-width="0.5" />
<line x1="138.17" y1="459.40" x2="138.17" y2="460.50" stroke="#111" stroke-width="0.5" />
<line x1="141.62" y1="459.40" x2="141.62" y2="460.50" stroke="#111" stroke-width="0.5" />
<line x1="144.29" y1="459.40" x2="144.29" y2="460.50" stroke="#111" stroke-width="0.5" />
<line x1="146.48" y1="459.40" x2="146.48" y2="460.50" stroke="#111" stroke-width="0.5" />
<line x1="148.32" y1="459.40" x2="148.32" y2="460.50" stroke="#111" stroke-width="0.5" />
<line x1="149.93" y1="459.40" x2="149.93" y2="460.50" stroke="#111" stroke-width="0.5" />
<line x1="151.34" y1="459.40" x2="151.34" y2="460.50" stroke="#111" stroke-width="0.5" />
<line x1="152.60" y1="459.40" x2="152.60" y2="461.40" stroke="#111" stroke-width="0.8" />
<line x1="160.91" y1="459.40" x2="160.91" y2="460.50" stroke="#111" stroke-width="0.5" />
<line x1="165.77" y1="459.40" x2="165.77" y2="460.50" stroke="#111" stroke-width="0.5" />
<line x1="169.22" y1="459.40" x2="169.22" y2="460.50" stroke="#111" stroke-width="0.5" />
<line x1="171.89" y1="459.40" x2="171.89" y2="460.50" stroke="#111" stroke-width="0.5" />
<line x1="174.08" y1="459.40" x2="174.08" y2="460.50" stroke="#111" stroke-width="0.5" />
<line x1="175.92" y1="459.40" x2="175.92" y2="460.50" stroke="#111" stroke-width="0.5" />
<line x1="177.53" y1="459.40" x2="177.53" y2="460.50" stroke="#111" stroke-width="0.5" />
<line x1="178.94" y1="459.40" x2="178.94" y2="460.50" stroke="#111" stroke-width="0.5" />
<line x1="180.20" y1="459.40" x2="180.20" y2="461.40" stroke="#111" stroke-width="0.8" />
<text x="125.00" y="466.72" font-size="4.8" font-weight="bold" text-anchor="middle" fill="#222" stroke="#222" stroke-width="0.15">0.1</text>
<text x="152.60" y="466.72" font-size="4.8" font-weight="bold" text-anchor="middle" fill="#222" stroke="#222" stroke-width="0.15">1</text>
<text x="180.20" y="466.72" font-size="4.8" font-weight="bold" text-anchor="middle" fill="#222" stroke="#222" stroke-width="0.15">10</text>
<text x="152.60" y="473.62" font-size="4.8" font-weight="bold" text-anchor="middle" fill="#222" stroke="#222" stroke-width="0.15">[VPA]</text>
<text transform="translate(111.50,431.00) rotate(-90)" y="1.6" font-size="5.0" font-weight="bold" text-anchor="middle" fill="#222" stroke="#222" stroke-width="0.12">% Expression</text>
<polyline points="125.00,414.69 148.32,444.33 157.46,452.60 165.77,457.46 171.89,458.67" fill="none" stroke="#444" stroke-width="0.7"/>
<circle cx="125.00" cy="414.69" r="1.3" fill="#111" />
<circle cx="148.32" cy="444.33" r="1.3" fill="#111" />
<circle cx="157.46" cy="452.60" r="1.3" fill="#111" />
<circle cx="165.77" cy="457.46" r="1.3" fill="#111" />
<circle cx="171.89" cy="458.67" r="1.3" fill="#111" />
<text x="155.00" y="393.83" font-size="7.2" font-weight="bold" text-anchor="middle" fill="#111" >PCNT</text>
<line x1="198.30" y1="403.50" x2="198.30" y2="459.50" stroke="#111" stroke-width="0.9" />
<line x1="197.80" y1="459.00" x2="253.30" y2="459.00" stroke="#111" stroke-width="0.9" />
<line x1="196.30" y1="459.00" x2="198.30" y2="459.00" stroke="#111" stroke-width="0.8" />
<text x="195.70" y="460.68" font-size="4.7" font-weight="bold" text-anchor="end" fill="#222" stroke="#222" stroke-width="0.15">0</text>
<line x1="196.30" y1="440.26" x2="198.30" y2="440.26" stroke="#111" stroke-width="0.8" />
<text x="195.70" y="441.95" font-size="4.7" font-weight="bold" text-anchor="end" fill="#222" stroke="#222" stroke-width="0.15">50</text>
<line x1="196.30" y1="421.53" x2="198.30" y2="421.53" stroke="#111" stroke-width="0.8" />
<text x="195.70" y="423.21" font-size="4.7" font-weight="bold" text-anchor="end" fill="#222" stroke="#222" stroke-width="0.15">100</text>
<line x1="196.30" y1="402.80" x2="198.30" y2="402.80" stroke="#111" stroke-width="0.8" />
<text x="195.70" y="404.48" font-size="4.7" font-weight="bold" text-anchor="end" fill="#222" stroke="#222" stroke-width="0.15">150</text>
<line x1="198.30" y1="459.00" x2="198.30" y2="461.00" stroke="#111" stroke-width="0.8" />
<line x1="206.58" y1="459.00" x2="206.58" y2="460.10" stroke="#111" stroke-width="0.5" />
<line x1="211.42" y1="459.00" x2="211.42" y2="460.10" stroke="#111" stroke-width="0.5" />
<line x1="214.86" y1="459.00" x2="214.86" y2="460.10" stroke="#111" stroke-width="0.5" />
<line x1="217.52" y1="459.00" x2="217.52" y2="460.10" stroke="#111" stroke-width="0.5" />
<line x1="219.70" y1="459.00" x2="219.70" y2="460.10" stroke="#111" stroke-width="0.5" />
<line x1="221.54" y1="459.00" x2="221.54" y2="460.10" stroke="#111" stroke-width="0.5" />
<line x1="223.13" y1="459.00" x2="223.13" y2="460.10" stroke="#111" stroke-width="0.5" />
<line x1="224.54" y1="459.00" x2="224.54" y2="460.10" stroke="#111" stroke-width="0.5" />
<line x1="225.80" y1="459.00" x2="225.80" y2="461.00" stroke="#111" stroke-width="0.8" />
<line x1="234.08" y1="459.00" x2="234.08" y2="460.10" stroke="#111" stroke-width="0.5" />
<line x1="238.92" y1="459.00" x2="238.92" y2="460.10" stroke="#111" stroke-width="0.5" />
<line x1="242.36" y1="459.00" x2="242.36" y2="460.10" stroke="#111" stroke-width="0.5" />
<line x1="245.02" y1="459.00" x2="245.02" y2="460.10" stroke="#111" stroke-width="0.5" />
<line x1="247.20" y1="459.00" x2="247.20" y2="460.10" stroke="#111" stroke-width="0.5" />
<line x1="249.04" y1="459.00" x2="249.04" y2="460.10" stroke="#111" stroke-width="0.5" />
<line x1="250.63" y1="459.00" x2="250.63" y2="460.10" stroke="#111" stroke-width="0.5" />
<line x1="252.04" y1="459.00" x2="252.04" y2="460.10" stroke="#111" stroke-width="0.5" />
<line x1="253.30" y1="459.00" x2="253.30" y2="461.00" stroke="#111" stroke-width="0.8" />
<text x="198.30" y="466.32" font-size="4.8" font-weight="bold" text-anchor="middle" fill="#222" stroke="#222" stroke-width="0.15">0.1</text>
<text x="225.80" y="466.32" font-size="4.8" font-weight="bold" text-anchor="middle" fill="#222" stroke="#222" stroke-width="0.15">1</text>
<text x="253.30" y="466.32" font-size="4.8" font-weight="bold" text-anchor="middle" fill="#222" stroke="#222" stroke-width="0.15">10</text>
<text x="225.80" y="473.62" font-size="4.8" font-weight="bold" text-anchor="middle" fill="#222" stroke="#222" stroke-width="0.15">[VPA]</text>
<text transform="translate(184.50,431.00) rotate(-90)" y="1.6" font-size="5.0" font-weight="bold" text-anchor="middle" fill="#222" stroke="#222" stroke-width="0.12">% Expression</text>
<polyline points="198.30,414.79 221.54,426.03 230.64,439.52 238.92,455.63 245.02,458.25" fill="none" stroke="#444" stroke-width="0.7"/>
<circle cx="198.30" cy="414.79" r="1.3" fill="#111" />
<circle cx="221.54" cy="426.03" r="1.3" fill="#111" />
<circle cx="230.64" cy="439.52" r="1.3" fill="#111" />
<circle cx="238.92" cy="455.63" r="1.3" fill="#111" />
<circle cx="245.02" cy="458.25" r="1.3" fill="#111" />
<text x="226.30" y="393.83" font-size="7.2" font-weight="bold" text-anchor="middle" fill="#111" >DNMT1</text>
<line x1="274.40" y1="403.50" x2="274.40" y2="460.30" stroke="#111" stroke-width="0.9" />
<line x1="273.90" y1="459.80" x2="330.40" y2="459.80" stroke="#111" stroke-width="0.9" />
<line x1="272.40" y1="459.80" x2="274.40" y2="459.80" stroke="#111" stroke-width="0.8" />
<text x="271.80" y="461.48" font-size="4.7" font-weight="bold" text-anchor="end" fill="#222" stroke="#222" stroke-width="0.15">0</text>
<line x1="272.40" y1="441.06" x2="274.40" y2="441.06" stroke="#111" stroke-width="0.8" />
<text x="271.80" y="442.75" font-size="4.7" font-weight="bold" text-anchor="end" fill="#222" stroke="#222" stroke-width="0.15">50</text>
<line x1="272.40" y1="422.33" x2="274.40" y2="422.33" stroke="#111" stroke-width="0.8" />
<text x="271.80" y="424.01" font-size="4.7" font-weight="bold" text-anchor="end" fill="#222" stroke="#222" stroke-width="0.15">100</text>
<line x1="272.40" y1="403.60" x2="274.40" y2="403.60" stroke="#111" stroke-width="0.8" />
<text x="271.80" y="405.28" font-size="4.7" font-weight="bold" text-anchor="end" fill="#222" stroke="#222" stroke-width="0.15">150</text>
<line x1="273.40" y1="459.80" x2="274.40" y2="459.80" stroke="#111" stroke-width="0.5" />
<line x1="273.40" y1="456.05" x2="274.40" y2="456.05" stroke="#111" stroke-width="0.5" />
<line x1="273.40" y1="452.31" x2="274.40" y2="452.31" stroke="#111" stroke-width="0.5" />
<line x1="273.40" y1="448.56" x2="274.40" y2="448.56" stroke="#111" stroke-width="0.5" />
<line x1="273.40" y1="444.81" x2="274.40" y2="444.81" stroke="#111" stroke-width="0.5" />
<line x1="273.40" y1="441.06" x2="274.40" y2="441.06" stroke="#111" stroke-width="0.5" />
<line x1="273.40" y1="437.32" x2="274.40" y2="437.32" stroke="#111" stroke-width="0.5" />
<line x1="273.40" y1="433.57" x2="274.40" y2="433.57" stroke="#111" stroke-width="0.5" />
<line x1="273.40" y1="429.82" x2="274.40" y2="429.82" stroke="#111" stroke-width="0.5" />
<line x1="273.40" y1="426.08" x2="274.40" y2="426.08" stroke="#111" stroke-width="0.5" />
<line x1="273.40" y1="422.33" x2="274.40" y2="422.33" stroke="#111" stroke-width="0.5" />
<line x1="273.40" y1="418.58" x2="274.40" y2="418.58" stroke="#111" stroke-width="0.5" />
<line x1="273.40" y1="414.84" x2="274.40" y2="414.84" stroke="#111" stroke-width="0.5" />
<line x1="273.40" y1="411.09" x2="274.40" y2="411.09" stroke="#111" stroke-width="0.5" />
<line x1="273.40" y1="407.34" x2="274.40" y2="407.34" stroke="#111" stroke-width="0.5" />
<line x1="273.40" y1="403.60" x2="274.40" y2="403.60" stroke="#111" stroke-width="0.5" />
<line x1="274.40" y1="459.80" x2="274.40" y2="461.80" stroke="#111" stroke-width="0.8" />
<line x1="282.83" y1="459.80" x2="282.83" y2="460.90" stroke="#111" stroke-width="0.5" />
<line x1="287.76" y1="459.80" x2="287.76" y2="460.90" stroke="#111" stroke-width="0.5" />
<line x1="291.26" y1="459.80" x2="291.26" y2="460.90" stroke="#111" stroke-width="0.5" />
<line x1="293.97" y1="459.80" x2="293.97" y2="460.90" stroke="#111" stroke-width="0.5" />
<line x1="296.19" y1="459.80" x2="296.19" y2="460.90" stroke="#111" stroke-width="0.5" />
<line x1="298.06" y1="459.80" x2="298.06" y2="460.90" stroke="#111" stroke-width="0.5" />
<line x1="299.69" y1="459.80" x2="299.69" y2="460.90" stroke="#111" stroke-width="0.5" />
<line x1="301.12" y1="459.80" x2="301.12" y2="460.90" stroke="#111" stroke-width="0.5" />
<line x1="302.40" y1="459.80" x2="302.40" y2="461.80" stroke="#111" stroke-width="0.8" />
<line x1="310.83" y1="459.80" x2="310.83" y2="460.90" stroke="#111" stroke-width="0.5" />
<line x1="315.76" y1="459.80" x2="315.76" y2="460.90" stroke="#111" stroke-width="0.5" />
<line x1="319.26" y1="459.80" x2="319.26" y2="460.90" stroke="#111" stroke-width="0.5" />
<line x1="321.97" y1="459.80" x2="321.97" y2="460.90" stroke="#111" stroke-width="0.5" />
<line x1="324.19" y1="459.80" x2="324.19" y2="460.90" stroke="#111" stroke-width="0.5" />
<line x1="326.06" y1="459.80" x2="326.06" y2="460.90" stroke="#111" stroke-width="0.5" />
<line x1="327.69" y1="459.80" x2="327.69" y2="460.90" stroke="#111" stroke-width="0.5" />
<line x1="329.12" y1="459.80" x2="329.12" y2="460.90" stroke="#111" stroke-width="0.5" />
<line x1="330.40" y1="459.80" x2="330.40" y2="461.80" stroke="#111" stroke-width="0.8" />
<text x="274.40" y="467.12" font-size="4.8" font-weight="bold" text-anchor="middle" fill="#222" stroke="#222" stroke-width="0.15">0.1</text>
<text x="302.40" y="467.12" font-size="4.8" font-weight="bold" text-anchor="middle" fill="#222" stroke="#222" stroke-width="0.15">1</text>
<text x="330.40" y="467.12" font-size="4.8" font-weight="bold" text-anchor="middle" fill="#222" stroke="#222" stroke-width="0.15">10</text>
<text x="302.40" y="473.62" font-size="4.8" font-weight="bold" text-anchor="middle" fill="#222" stroke="#222" stroke-width="0.15">[VPA]</text>
<text transform="translate(259.50,431.00) rotate(-90)" y="1.6" font-size="5.0" font-weight="bold" text-anchor="middle" fill="#222" stroke="#222" stroke-width="0.12">% Expression</text>
<polyline points="274.40,412.21 298.06,414.84 307.33,421.58 315.76,437.32 321.97,437.32" fill="none" stroke="#444" stroke-width="0.7"/>
<circle cx="274.40" cy="412.21" r="1.3" fill="#111" />
<circle cx="298.06" cy="414.84" r="1.3" fill="#111" />
<circle cx="307.33" cy="421.58" r="1.3" fill="#111" />
<circle cx="315.76" cy="437.32" r="1.3" fill="#111" />
<circle cx="321.97" cy="437.32" r="1.3" fill="#111" />
<text x="302.10" y="395.28" font-size="7.2" font-weight="bold" text-anchor="middle" fill="#111" >BRD2</text>
<line x1="347.10" y1="403.50" x2="347.10" y2="459.90" stroke="#111" stroke-width="0.9" />
<line x1="346.60" y1="459.40" x2="402.50" y2="459.40" stroke="#111" stroke-width="0.9" />
<line x1="345.10" y1="459.40" x2="347.10" y2="459.40" stroke="#111" stroke-width="0.8" />
<text x="344.50" y="461.08" font-size="4.7" font-weight="bold" text-anchor="end" fill="#222" stroke="#222" stroke-width="0.15">0</text>
<line x1="345.10" y1="442.66" x2="347.10" y2="442.66" stroke="#111" stroke-width="0.8" />
<text x="344.50" y="444.35" font-size="4.7" font-weight="bold" text-anchor="end" fill="#222" stroke="#222" stroke-width="0.15">50</text>
<line x1="345.10" y1="425.93" x2="347.10" y2="425.93" stroke="#111" stroke-width="0.8" />
<text x="344.50" y="427.61" font-size="4.7" font-weight="bold" text-anchor="end" fill="#222" stroke="#222" stroke-width="0.15">100</text>
<line x1="345.10" y1="409.19" x2="347.10" y2="409.19" stroke="#111" stroke-width="0.8" />
<text x="344.50" y="410.88" font-size="4.7" font-weight="bold" text-anchor="end" fill="#222" stroke="#222" stroke-width="0.15">150</text>
<line x1="346.10" y1="459.40" x2="347.10" y2="459.40" stroke="#111" stroke-width="0.5" />
<line x1="346.10" y1="456.05" x2="347.10" y2="456.05" stroke="#111" stroke-width="0.5" />
<line x1="346.10" y1="452.71" x2="347.10" y2="452.71" stroke="#111" stroke-width="0.5" />
<line x1="346.10" y1="449.36" x2="347.10" y2="449.36" stroke="#111" stroke-width="0.5" />
<line x1="346.10" y1="446.01" x2="347.10" y2="446.01" stroke="#111" stroke-width="0.5" />
<line x1="346.10" y1="442.66" x2="347.10" y2="442.66" stroke="#111" stroke-width="0.5" />
<line x1="346.10" y1="439.32" x2="347.10" y2="439.32" stroke="#111" stroke-width="0.5" />
<line x1="346.10" y1="435.97" x2="347.10" y2="435.97" stroke="#111" stroke-width="0.5" />
<line x1="346.10" y1="432.62" x2="347.10" y2="432.62" stroke="#111" stroke-width="0.5" />
<line x1="346.10" y1="429.28" x2="347.10" y2="429.28" stroke="#111" stroke-width="0.5" />
<line x1="346.10" y1="425.93" x2="347.10" y2="425.93" stroke="#111" stroke-width="0.5" />
<line x1="346.10" y1="422.58" x2="347.10" y2="422.58" stroke="#111" stroke-width="0.5" />
<line x1="346.10" y1="419.24" x2="347.10" y2="419.24" stroke="#111" stroke-width="0.5" />
<line x1="346.10" y1="415.89" x2="347.10" y2="415.89" stroke="#111" stroke-width="0.5" />
<line x1="346.10" y1="412.54" x2="347.10" y2="412.54" stroke="#111" stroke-width="0.5" />
<line x1="346.10" y1="409.19" x2="347.10" y2="409.19" stroke="#111" stroke-width="0.5" />
<line x1="346.10" y1="405.85" x2="347.10" y2="405.85" stroke="#111" stroke-width="0.5" />
<line x1="347.10" y1="459.40" x2="347.10" y2="461.40" stroke="#111" stroke-width="0.8" />
<line x1="355.44" y1="459.40" x2="355.44" y2="460.50" stroke="#111" stroke-width="0.5" />
<line x1="360.32" y1="459.40" x2="360.32" y2="460.50" stroke="#111" stroke-width="0.5" />
<line x1="363.78" y1="459.40" x2="363.78" y2="460.50" stroke="#111" stroke-width="0.5" />
<line x1="366.46" y1="459.40" x2="366.46" y2="460.50" stroke="#111" stroke-width="0.5" />
<line x1="368.65" y1="459.40" x2="368.65" y2="460.50" stroke="#111" stroke-width="0.5" />
<line x1="370.51" y1="459.40" x2="370.51" y2="460.50" stroke="#111" stroke-width="0.5" />
<line x1="372.12" y1="459.40" x2="372.12" y2="460.50" stroke="#111" stroke-width="0.5" />
<line x1="373.53" y1="459.40" x2="373.53" y2="460.50" stroke="#111" stroke-width="0.5" />
<line x1="374.80" y1="459.40" x2="374.80" y2="461.40" stroke="#111" stroke-width="0.8" />
<line x1="383.14" y1="459.40" x2="383.14" y2="460.50" stroke="#111" stroke-width="0.5" />
<line x1="388.02" y1="459.40" x2="388.02" y2="460.50" stroke="#111" stroke-width="0.5" />
<line x1="391.48" y1="459.40" x2="391.48" y2="460.50" stroke="#111" stroke-width="0.5" />
<line x1="394.16" y1="459.40" x2="394.16" y2="460.50" stroke="#111" stroke-width="0.5" />
<line x1="396.35" y1="459.40" x2="396.35" y2="460.50" stroke="#111" stroke-width="0.5" />
<line x1="398.21" y1="459.40" x2="398.21" y2="460.50" stroke="#111" stroke-width="0.5" />
<line x1="399.82" y1="459.40" x2="399.82" y2="460.50" stroke="#111" stroke-width="0.5" />
<line x1="401.23" y1="459.40" x2="401.23" y2="460.50" stroke="#111" stroke-width="0.5" />
<line x1="402.50" y1="459.40" x2="402.50" y2="461.40" stroke="#111" stroke-width="0.8" />
<text x="347.10" y="466.72" font-size="4.8" font-weight="bold" text-anchor="middle" fill="#222" stroke="#222" stroke-width="0.15">0.1</text>
<text x="374.80" y="466.72" font-size="4.8" font-weight="bold" text-anchor="middle" fill="#222" stroke="#222" stroke-width="0.15">1</text>
<text x="402.50" y="466.72" font-size="4.8" font-weight="bold" text-anchor="middle" fill="#222" stroke="#222" stroke-width="0.15">10</text>
<text x="374.80" y="473.62" font-size="4.8" font-weight="bold" text-anchor="middle" fill="#222" stroke="#222" stroke-width="0.15">[VPA]</text>
<text transform="translate(332.50,431.00) rotate(-90)" y="1.6" font-size="5.0" font-weight="bold" text-anchor="middle" fill="#222" stroke="#222" stroke-width="0.12">% Expression</text>
<polyline points="347.10,405.85 370.51,421.58 379.68,429.28 388.02,450.03 394.16,453.38" fill="none" stroke="#444" stroke-width="0.7"/>
<circle cx="347.10" cy="405.85" r="1.3" fill="#111" />
<circle cx="370.51" cy="421.58" r="1.3" fill="#111" />
<circle cx="379.68" cy="429.28" r="1.3" fill="#111" />
<circle cx="388.02" cy="450.03" r="1.3" fill="#111" />
<circle cx="394.16" cy="453.38" r="1.3" fill="#111" />
<text x="374.80" y="397.98" font-size="7.2" font-weight="bold" text-anchor="middle" fill="#111" >HMOX1</text>
<text x="436.80" y="242.40" font-size="12.4" font-weight="bold" text-anchor="start" fill="#000" >D.</text>
<text x="487.20" y="280.35" font-size="7.4" font-weight="normal" text-anchor="middle" fill="#111" >Regulation</text>
<rect x="522.30" y="274.50" width="5.40" height="5.50" fill="#f01414" />
<text x="530.60" y="280.35" font-size="7.4" font-weight="normal" text-anchor="start" fill="#111" >Up</text>
<rect x="557.70" y="274.50" width="5.50" height="5.50" fill="#1414e6" />
<text x="568.70" y="280.35" font-size="7.4" font-weight="normal" text-anchor="start" fill="#111" >Down</text>
<rect x="504.70" y="314.20" width="44.07" height="6.80" fill="#1010f5" />
<rect x="504.70" y="325.00" width="45.36" height="6.90" fill="#f81010" />
<text x="551.07" y="319.82" font-size="6.2" font-weight="normal" text-anchor="start" fill="#111" >890</text>
<text x="552.36" y="330.72" font-size="6.2" font-weight="normal" text-anchor="start" fill="#111" >916</text>
<line x1="499.90" y1="322.80" x2="504.70" y2="322.80" stroke="#111" stroke-width="1.1" />
<text x="498.70" y="325.59" font-size="7.8" font-weight="bold" text-anchor="end" fill="#111" >96 HR</text>
<rect x="504.70" y="343.40" width="50.61" height="6.80" fill="#1010f5" />
<rect x="504.70" y="354.20" width="47.79" height="6.90" fill="#f81010" />
<text x="557.61" y="349.02" font-size="6.2" font-weight="normal" text-anchor="start" fill="#111" >1022</text>
<text x="554.79" y="359.92" font-size="6.2" font-weight="normal" text-anchor="start" fill="#111" >965</text>
<line x1="499.90" y1="352.00" x2="504.70" y2="352.00" stroke="#111" stroke-width="1.1" />
<text x="498.70" y="354.79" font-size="7.8" font-weight="bold" text-anchor="end" fill="#111" >72 HR</text>
<rect x="504.70" y="372.00" width="26.25" height="6.80" fill="#1010f5" />
<rect x="504.70" y="382.80" width="36.79" height="6.90" fill="#f81010" />
<text x="533.25" y="377.62" font-size="6.2" font-weight="normal" text-anchor="start" fill="#111" >530</text>
<text x="543.79" y="388.52" font-size="6.2" font-weight="normal" text-anchor="start" fill="#111" >743</text>
<line x1="499.90" y1="380.60" x2="504.70" y2="380.60" stroke="#111" stroke-width="1.1" />
<text x="498.70" y="383.39" font-size="7.8" font-weight="bold" text-anchor="end" fill="#111" >48 HR</text>
<rect x="504.70" y="401.40" width="26.20" height="6.80" fill="#1010f5" />
<rect x="504.70" y="412.20" width="36.05" height="6.90" fill="#f81010" />
<text x="533.20" y="407.02" font-size="6.2" font-weight="normal" text-anchor="start" fill="#111" >529</text>
<text x="543.05" y="417.92" font-size="6.2" font-weight="normal" text-anchor="start" fill="#111" >728</text>
<line x1="499.90" y1="410.00" x2="504.70" y2="410.00" stroke="#111" stroke-width="1.1" />
<text x="498.70" y="412.79" font-size="7.8" font-weight="bold" text-anchor="end" fill="#111" >24 HR</text>
<line x1="504.70" y1="309.70" x2="504.70" y2="423.00" stroke="#111" stroke-width="1.1" />
<line x1="504.20" y1="422.40" x2="579.40" y2="422.40" stroke="#111" stroke-width="1.1" />
<line x1="504.70" y1="422.40" x2="504.70" y2="425.00" stroke="#111" stroke-width="1" />
<text x="504.70" y="436.11" font-size="7.0" font-weight="bold" text-anchor="middle" fill="#111" >0</text>
<line x1="529.46" y1="422.40" x2="529.46" y2="425.00" stroke="#111" stroke-width="1" />
<text x="529.46" y="436.11" font-size="7.0" font-weight="bold" text-anchor="middle" fill="#111" >500</text>
<line x1="554.22" y1="422.40" x2="554.22" y2="425.00" stroke="#111" stroke-width="1" />
<text x="554.22" y="436.11" font-size="7.0" font-weight="bold" text-anchor="middle" fill="#111" >1000</text>
<line x1="578.98" y1="422.40" x2="578.98" y2="425.00" stroke="#111" stroke-width="1" />
<text x="578.98" y="436.11" font-size="7.0" font-weight="bold" text-anchor="middle" fill="#111" >1500</text>
<text x="541.40" y="449.00" font-size="8.5" font-weight="bold" text-anchor="middle" fill="#111" xml:space="preserve"># Differentially  Expressed Genes</text>
<text transform="translate(471.8,365) rotate(-90)" font-size="9.8" font-weight="bold" text-anchor="middle" fill="#111">VPA Treatment Time</text></svg>
</body></html>
